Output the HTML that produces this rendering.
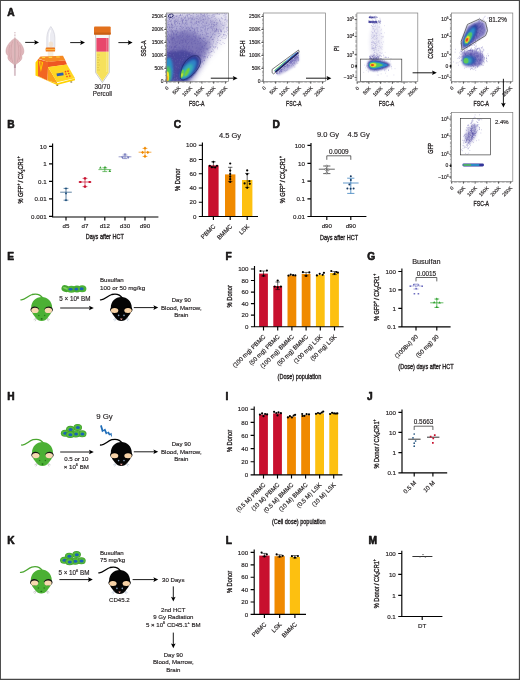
<!DOCTYPE html>
<html lang="en"><head><meta charset="utf-8"><title>Figure</title>
<style>html,body{margin:0;padding:0;background:#fff}svg{display:block;will-change:transform}text{font-family:"Liberation Sans",Arial,Helvetica,sans-serif;fill:#231f20}text{stroke:#231f20;stroke-width:.16px}.c,.c text{stroke-width:.34px}</style>
</head><body>
<svg width="520" height="680" viewBox="0 0 520 680">
<rect width="520" height="680" fill="#fff"/>
<defs>
<filter id="b1" x="-30%" y="-30%" width="160%" height="160%"><feGaussianBlur stdDeviation="0.9"/></filter>
<filter id="b2" x="-30%" y="-30%" width="160%" height="160%"><feGaussianBlur stdDeviation="1.8"/></filter>
<filter id="b3" x="-30%" y="-30%" width="160%" height="160%"><feGaussianBlur stdDeviation="3.2"/></filter>
<filter id="b0" x="-30%" y="-30%" width="160%" height="160%"><feGaussianBlur stdDeviation="0.45"/></filter>
<g id="mouseG"><path d="M-20.8 -8.6C-17 -8 -14 -12.5 -9.5 -13.9C-5 -15 -1 -13.5 1.2 -10.2" fill="none" stroke="#4aa62f" stroke-width="1.3" stroke-linecap="round"/><path d="M0 -11.5C5.8 -11.5 10.5 -7.4 10.5 -0.4C10.5 4.2 7.6 7.4 5.9 9.5C4.4 11.4 2.6 12.5 0 12.5C-2.6 12.5 -4.4 11.4 -5.9 9.5C-7.6 7.4 -10.5 4.2 -10.5 -0.4C-10.5 -7.4 -5.8 -11.5 0 -11.5Z" fill="#4bb034"/><path d="M-5.4 9.8l-2.6 1.5M-5.2 10.4l-1.5 2.4M5.4 9.8l2.6 1.5M5.2 10.4l1.5 2.4" stroke="#a6a6a6" stroke-width="0.55" fill="none"/><path d="M-11.2 1.2C-10.6 -2.6 -5 -3 -2.9 0.2C-2.6 2.4 -4 4.2 -6.6 4.4C-9.2 4.6 -11.4 3.4 -11.2 1.2Z" fill="#141414"/><path d="M11.2 1.2C10.6 -2.6 5 -3 2.9 0.2C2.6 2.4 4 4.2 6.6 4.4C9.2 4.6 11.4 3.4 11.2 1.2Z" fill="#141414"/><ellipse cx="-6.7" cy="2" rx="3.7" ry="2.55" fill="#f7d9b0"/><ellipse cx="6.7" cy="2" rx="3.7" ry="2.55" fill="#f7d9b0"/><circle cx="-2.9" cy="7" r="0.75" fill="#2c7a1e"/><circle cx="2.9" cy="7" r="0.75" fill="#2c7a1e"/><ellipse cx="0" cy="10.5" rx="1" ry="0.8" fill="#226b18"/></g>
<g id="mouseB"><path d="M-20.8 -8.6C-17 -8 -14 -12.5 -9.5 -13.9C-5 -15 -1 -13.5 1.2 -10.2" fill="none" stroke="#000" stroke-width="1.3" stroke-linecap="round"/><path d="M0 -11.5C5.8 -11.5 10.5 -7.4 10.5 -0.4C10.5 4.2 7.6 7.4 5.9 9.5C4.4 11.4 2.6 12.5 0 12.5C-2.6 12.5 -4.4 11.4 -5.9 9.5C-7.6 7.4 -10.5 4.2 -10.5 -0.4C-10.5 -7.4 -5.8 -11.5 0 -11.5Z" fill="#050505"/><path d="M-5.4 9.8l-2.6 1.5M-5.2 10.4l-1.5 2.4M5.4 9.8l2.6 1.5M5.2 10.4l1.5 2.4" stroke="#9fb0c4" stroke-width="0.55" fill="none"/><path d="M-11.2 1.2C-10.6 -2.6 -5 -3 -2.9 0.2C-2.6 2.4 -4 4.2 -6.6 4.4C-9.2 4.6 -11.4 3.4 -11.2 1.2Z" fill="#000"/><path d="M11.2 1.2C10.6 -2.6 5 -3 2.9 0.2C2.6 2.4 4 4.2 6.6 4.4C9.2 4.6 11.4 3.4 11.2 1.2Z" fill="#000"/><ellipse cx="-6.7" cy="2.1" rx="3.7" ry="2.5" fill="#f7d2a6"/><ellipse cx="6.7" cy="2.1" rx="3.7" ry="2.5" fill="#f7d2a6"/><circle cx="-2.7" cy="7" r="0.8" fill="#8ea6c2"/><circle cx="2.7" cy="7" r="0.8" fill="#8ea6c2"/><path d="M-1.3 10.2h2.6l-1.3 1.6z" fill="#f4a6a0"/></g>
<g id="cell"><ellipse rx="4.3" ry="3.5" fill="#3f9e2c"/><ellipse rx="3.7" ry="2.9" fill="#55b93a"/><ellipse cx="0.2" cy="0.1" rx="2" ry="1.5" fill="#1b62b5"/></g>
</defs>
<path d="M0 0H520V680H0ZM0.95 0.9V678.7H518.85V0.9Z" fill="#474747" fill-rule="evenodd"/>
<text x="7.2" y="15.6" font-size="10.2" font-weight="bold" fill="#000" style="font-weight:700;stroke:#000;stroke-width:.55px;stroke-linejoin:round">A</text>
<text x="7.2" y="127.7" font-size="10.2" font-weight="bold" fill="#000" style="font-weight:700;stroke:#000;stroke-width:.55px;stroke-linejoin:round">B</text>
<text x="173.8" y="127.7" font-size="10.2" font-weight="bold" fill="#000" style="font-weight:700;stroke:#000;stroke-width:.55px;stroke-linejoin:round">C</text>
<text x="272.4" y="127.7" font-size="10.2" font-weight="bold" fill="#000" style="font-weight:700;stroke:#000;stroke-width:.55px;stroke-linejoin:round">D</text>
<text x="7.2" y="259.5" font-size="10.2" font-weight="bold" fill="#000" style="font-weight:700;stroke:#000;stroke-width:.55px;stroke-linejoin:round">E</text>
<text x="225.4" y="259.5" font-size="10.2" font-weight="bold" fill="#000" style="font-weight:700;stroke:#000;stroke-width:.55px;stroke-linejoin:round">F</text>
<text x="367.2" y="259.5" font-size="10.2" font-weight="bold" fill="#000" style="font-weight:700;stroke:#000;stroke-width:.55px;stroke-linejoin:round">G</text>
<text x="7.2" y="400.1" font-size="10.2" font-weight="bold" fill="#000" style="font-weight:700;stroke:#000;stroke-width:.55px;stroke-linejoin:round">H</text>
<text x="225.6" y="399.9" font-size="10.2" font-weight="bold" fill="#000" style="font-weight:700;stroke:#000;stroke-width:.55px;stroke-linejoin:round">I</text>
<text x="367" y="400.3" font-size="10.2" font-weight="bold" fill="#000" style="font-weight:700;stroke:#000;stroke-width:.55px;stroke-linejoin:round">J</text>
<text x="7.2" y="544.1" font-size="10.2" font-weight="bold" fill="#000" style="font-weight:700;stroke:#000;stroke-width:.55px;stroke-linejoin:round">K</text>
<text x="225.8" y="544.1" font-size="10.2" font-weight="bold" fill="#000" style="font-weight:700;stroke:#000;stroke-width:.55px;stroke-linejoin:round">L</text>
<text x="368.5" y="544.1" font-size="10.2" font-weight="bold" fill="#000" style="font-weight:700;stroke:#000;stroke-width:.55px;stroke-linejoin:round">M</text>
<g>
<path d="M14.9 32.2V38.4" stroke="#cdb0b6" stroke-width="1.3" stroke-dasharray="0.9 0.6"/>
<path d="M14.9 64V75.8" stroke="#d9c3ca" stroke-width="1.9"/>
<path d="M14.9 64V68" stroke="#b99aa6" stroke-width="1.9"/>
<path d="M14.9 38.2C18.6 40.4 23.2 45.2 23.8 50.4C24.1 53 23 54.6 21.6 55.8C22.4 57.6 21.6 59.4 20.4 60.8C18.8 62.6 16.4 63.8 14.9 64.9C13.4 63.8 11 62.6 9.4 60.8C8.2 59.4 7.4 57.6 8.2 55.8C6.8 54.6 5.7 53 6 50.4C6.6 45.2 11.2 40.4 14.9 38.2Z" fill="#e0b7bb" stroke="#c9979c" stroke-width="0.5"/>
<path d="M14.9 38.8V64.4" stroke="#b9a2a2" stroke-width="0.8" fill="none"/>
<path d="M12.6 41.5C10.6 46.5 10.4 56 12.8 62.4M17.2 41.5C19.2 46.5 19.4 56 17 62.4M10 45C8.4 49.5 8.6 54.4 10.6 59.6M19.8 45C21.4 49.5 21.2 54.4 19.2 59.6" stroke="#c9959b" stroke-width="0.5" fill="none"/>
</g>
<path d="M25.2 42.4L35.4 42.4" stroke="#000" stroke-width="0.9"/>
<path d="M39 42.4L34.2 44.7L35.1 42.4L34.2 40.1Z" fill="#000"/>
<g>
<path d="M46.8 47.6V38C46.8 33 49 28.6 50.8 26.5C52.6 28.6 54.9 33 54.9 38V47.6Z" fill="#ececf2" stroke="#cdcdd6" stroke-width="0.6"/>
<path d="M49.3 46.5V37.5C49.3 34 50.1 31.5 50.6 30.3" fill="none" stroke="#fff" stroke-width="1.2"/>
<ellipse cx="50.9" cy="44.2" rx="2.3" ry="2.8" fill="#f3dfc6" opacity="0.75"/>
<rect x="47.8" y="51.2" width="5.6" height="5.4" fill="#f6ecdc"/>
<rect x="45.7" y="47.4" width="9.4" height="4.2" rx="0.7" fill="#f07a1c"/>
<rect x="45.7" y="49" width="9.4" height="1.1" fill="#fbb548"/>
<path d="M35.5 62.5L38 59.2V76L47.5 80.5L57 83.2L75 78.4V80.2L57 84.9L35.5 75.6Z" fill="#ffd200"/>
<path d="M38 59L48 61.8V67.5L47.5 80.5L38 76Z" fill="#f26522"/>
<path d="M48 61.8L65.2 60.2L67 64.5L48 67.2Z" fill="#ee5623"/>
<path d="M38.4 58.6L40.5 56.5L63 55.8L65.3 60.2L48 61.9Z" fill="#f58a24"/>
<path d="M42 56.9h3l.3 1.2h-3zM48.5 56.7h3.5l.3 1.2h-3.5zM56 56.4h3.5l.4 1.2h-3.5z" fill="#ffd640"/>
<path d="M38.7 61L43.2 62.2L40.9 72Z" fill="#ffd200"/><path d="M39.9 62L42.1 62.6L40.9 68.6Z" fill="#f47a20"/>
<path d="M48 67L57 82V83.3L47.5 80.5Z" fill="#f9a11a"/>
<path d="M48 67L67 64.5L75 78.2L57 82.2Z" fill="#ffd622"/>
<path d="M56.5 73.5L63.2 72.5L63.7 75.2L57 76.2Z" fill="#2f5fb0"/>
<circle cx="65.5" cy="71.7" r="0.85" fill="#ef4a23"/>
<circle cx="68" cy="71.2" r="0.85" fill="#ef4a23"/>
<circle cx="66" cy="74" r="0.85" fill="#ef4a23"/>
<circle cx="68.8" cy="73.5" r="0.85" fill="#ef4a23"/>
<circle cx="67" cy="76.5" r="0.85" fill="#ef4a23"/>
<circle cx="69.8" cy="76" r="0.85" fill="#ef4a23"/>
<path d="M56.4 84.8h1.8v0.9h-1.8zM70.4 81.5h1.8v0.9h-1.8z" fill="#7a5a10"/>
</g>
<path d="M70.2 42.6L81.4 42.6" stroke="#000" stroke-width="0.9"/>
<path d="M85 42.6L80.2 44.9L81.1 42.6L80.2 40.3Z" fill="#000"/>
<g>
<path d="M95.6 34V72.6L102.4 82.6L109.3 72.6V34Z" fill="#f7f7f7" stroke="#b5b5b5" stroke-width="0.7"/>
<path d="M96.4 51.6H108.5V72.4L102.4 81.2L96.4 72.4Z" fill="#f6e15c"/>
<rect x="96.4" y="38" width="12.1" height="13.6" fill="#e8476b"/>
<path d="M106.8 38V72" stroke="#fff" stroke-width="0.9" opacity="0.35"/>
<path d="M97 55h3M97 57.5h2M97 60h3M97 62.5h2M97 65h3M97 67.5h2M97 70h3" stroke="#c9a93a" stroke-width="0.4"/>
<rect x="94" y="26.4" width="16.7" height="8.2" rx="1" fill="#e2701c"/>
<rect x="94" y="32.6" width="16.7" height="2" fill="#c95f14"/>
</g>
<text x="102.4" y="89.2" font-size="6.3" text-anchor="middle">30/70</text>
<text x="102.4" y="96.4" font-size="6.3" text-anchor="middle">Percoll</text>
<path d="M118.4 42.6L129 42.6" stroke="#000" stroke-width="0.9"/>
<path d="M132.6 42.6L127.8 44.9L128.7 42.6L127.8 40.3Z" fill="#000"/>
<clipPath id="c1"><rect x="166.5" y="13" width="61.9" height="68.4"/></clipPath>
<g clip-path="url(#c1)">
<path d="M166 8L232 8L232 30L205 62L192 82L166 82Z" fill="#6a5fb0" opacity="0.16" filter="url(#b3)"/>
<path d="M166 18L205 13L224 24L206 55L190 82L166 82Z" fill="#5c52a8" opacity="0.36" filter="url(#b3)"/>
<path d="M166 34L190 30L210 44L202 62L188 82L166 82Z" fill="#4b429c" opacity="0.55" filter="url(#b3)"/>
<path d="M166 52L184 50L199 56L196 70L186 82L166 82Z" fill="#3b3a94" opacity="0.75" filter="url(#b2)"/>
<path d="M180.0 75.0h.6M167.8 52.3h.6M167.2 57.5h.6M168.2 78.0h.6M186.0 27.8h.6M170.2 71.0h.6M199.5 17.8h.6M196.0 60.0h.6M171.0 76.7h.6M179.2 28.7h.6M172.7 46.9h.6M200.4 61.6h.6M167.9 72.0h.6M203.4 57.9h.6M179.5 46.6h.6M187.8 66.3h.6M175.7 47.4h.6M192.5 23.8h.6M185.6 33.4h.6M171.4 53.6h.6M167.3 40.3h.6M209.7 47.5h.6M196.2 55.9h.6M215.5 18.1h.6M167.9 37.7h.6M201.0 14.0h.6M166.9 55.5h.6M172.1 76.7h.6M167.9 32.5h.6M170.4 69.5h.6M183.9 24.1h.6M168.6 56.4h.6M194.1 23.2h.6M213.9 24.8h.6M182.0 23.1h.6M172.5 70.5h.6M175.2 53.9h.6M196.9 68.6h.6M182.7 48.0h.6M224.6 38.6h.6M191.8 44.2h.6M220.2 31.6h.6M218.2 30.1h.6M169.4 42.9h.6M168.0 79.1h.6M174.0 74.4h.6M181.0 79.7h.6M166.5 75.0h.6M169.3 62.2h.6M166.9 23.9h.6M176.2 63.3h.6M182.4 76.5h.6M216.2 14.0h.6M168.8 77.5h.6M181.1 68.5h.6M166.9 17.5h.6M192.7 15.2h.6M217.3 38.2h.6M172.0 32.2h.6M193.0 31.6h.6M180.4 71.0h.6M213.3 14.7h.6M213.8 34.7h.6M174.9 51.5h.6M181.9 80.6h.6M167.0 67.6h.6M176.5 38.4h.6M174.6 70.8h.6M173.4 72.1h.6M199.3 21.8h.6M201.4 30.0h.6M168.7 40.9h.6M221.1 31.4h.6M172.6 30.8h.6M180.5 29.9h.6M184.6 17.9h.6M220.7 29.4h.6M171.1 27.8h.6M170.5 81.1h.6M192.6 19.0h.6M176.1 66.7h.6M175.6 46.5h.6M176.5 58.5h.6M170.5 21.0h.6M181.7 55.8h.6M196.4 21.4h.6M190.9 50.5h.6M166.5 30.0h.6M172.3 54.7h.6M206.7 48.7h.6M180.2 51.5h.6M194.5 31.2h.6M176.0 67.7h.6M210.2 52.3h.6M195.0 33.1h.6M198.5 52.4h.6M191.6 38.4h.6M189.4 18.3h.6M204.7 23.7h.6M194.8 18.2h.6M168.3 69.9h.6M168.3 40.2h.6M211.1 22.0h.6M171.5 36.6h.6M174.5 17.4h.6M184.4 53.7h.6M227.7 27.3h.6M171.8 57.6h.6M191.9 63.8h.6M194.4 57.0h.6M199.3 51.9h.6M168.0 14.7h.6M211.5 15.8h.6M167.3 31.6h.6M177.1 76.1h.6M185.9 20.8h.6M171.3 20.2h.6M195.6 37.8h.6M203.9 58.0h.6M168.3 18.6h.6M200.0 29.8h.6M168.1 24.9h.6M187.8 63.8h.6M194.4 19.6h.6M192.6 70.1h.6M169.6 74.4h.6M167.6 72.2h.6M179.4 66.0h.6M181.4 80.9h.6M176.1 81.0h.6M207.3 49.1h.6M173.1 54.6h.6M190.5 27.2h.6M184.1 52.3h.6M203.9 14.9h.6M205.3 42.8h.6M184.8 63.3h.6M167.7 76.1h.6M168.2 34.7h.6M176.3 74.3h.6M168.7 26.6h.6M217.9 40.1h.6M178.3 55.7h.6M171.6 56.6h.6M176.7 16.6h.6M175.8 16.3h.6M179.2 62.7h.6M166.5 61.0h.6M189.2 52.6h.6M166.5 68.5h.6M168.9 59.8h.6M167.3 80.8h.6M178.9 70.4h.6M196.6 50.7h.6M208.6 41.1h.6M183.9 64.6h.6M206.6 42.2h.6M219.6 43.4h.6M207.3 29.0h.6M191.1 27.1h.6M212.7 27.8h.6M203.5 38.4h.6M175.0 80.5h.6M170.6 62.4h.6M169.5 27.1h.6M194.7 43.4h.6M212.2 34.1h.6M207.8 15.5h.6M189.5 39.1h.6M209.8 44.2h.6M171.2 69.1h.6M202.8 38.5h.6M188.6 76.7h.6M166.8 55.7h.6M213.9 16.1h.6M187.6 68.2h.6M174.1 46.9h.6M170.9 51.1h.6M213.9 52.2h.6M175.1 22.0h.6M166.5 53.4h.6M187.6 66.2h.6M179.6 26.7h.6M166.5 33.9h.6M222.4 36.8h.6M182.8 60.2h.6M182.2 57.9h.6M177.4 79.9h.6M169.3 27.1h.6M177.9 18.8h.6M176.0 68.4h.6M219.0 29.0h.6M199.8 20.7h.6M207.2 56.3h.6M178.0 79.8h.6M189.0 63.5h.6M172.0 74.4h.6M173.9 21.3h.6M190.6 71.2h.6M220.8 13.7h.6M173.2 78.0h.6M181.1 78.0h.6M175.5 68.9h.6M195.5 22.8h.6M183.1 63.9h.6M168.0 67.7h.6M191.0 43.3h.6M177.1 69.5h.6M184.5 56.6h.6M224.7 26.0h.6M214.4 25.5h.6M192.3 39.2h.6M223.7 36.2h.6M188.1 49.1h.6M167.3 31.4h.6M175.2 20.1h.6M200.8 66.1h.6M200.2 38.0h.6M169.7 78.9h.6M192.4 46.8h.6M178.8 55.6h.6M175.3 69.6h.6M179.1 80.8h.6M190.7 39.8h.6M202.4 19.7h.6M174.9 80.4h.6M180.8 58.4h.6M191.1 72.0h.6M174.6 33.1h.6M178.4 17.5h.6M190.5 73.0h.6M174.7 58.6h.6M202.3 17.7h.6M174.2 15.6h.6M170.9 79.7h.6M167.9 60.2h.6M220.1 23.1h.6M207.2 13.6h.6M172.9 18.8h.6M202.2 61.2h.6M172.1 81.4h.6M177.6 63.0h.6M167.6 54.7h.6M182.9 20.2h.6M173.2 62.2h.6M167.2 79.3h.6M180.9 68.0h.6M176.7 36.6h.6M179.6 67.8h.6M166.5 33.5h.6M175.2 54.6h.6M224.9 17.3h.6M183.7 69.3h.6M186.3 53.3h.6M214.1 32.1h.6M198.1 64.5h.6M173.4 33.7h.6M175.9 79.2h.6M167.1 49.0h.6M180.1 15.1h.6M219.0 14.4h.6M169.1 52.9h.6M205.5 56.5h.6M175.2 58.6h.6M199.0 39.9h.6M175.9 69.7h.6M171.4 23.1h.6M191.3 70.5h.6M213.0 41.5h.6M189.2 28.4h.6M215.5 20.6h.6M170.0 72.9h.6M176.6 31.7h.6M197.3 44.0h.6M170.9 72.1h.6M176.3 45.5h.6M166.6 64.6h.6M212.0 49.3h.6M168.0 77.5h.6M184.2 49.2h.6M185.1 67.3h.6M179.1 17.4h.6M179.4 48.0h.6M181.9 58.7h.6M217.4 13.7h.6M182.3 72.5h.6M186.0 28.3h.6M184.9 23.2h.6M188.3 74.4h.6M166.7 49.1h.6M200.5 21.0h.6M182.7 52.5h.6M171.1 67.3h.6M192.2 19.7h.6M169.6 53.5h.6M212.7 16.2h.6M223.8 15.5h.6M189.7 79.7h.6M184.8 26.2h.6M174.4 59.8h.6M192.0 60.9h.6M206.7 22.0h.6M167.3 48.3h.6M197.6 49.2h.6M186.1 41.0h.6M187.4 57.1h.6M166.9 44.1h.6M190.1 70.3h.6M188.1 73.5h.6M189.1 77.2h.6M169.0 56.9h.6M191.1 61.3h.6M216.8 13.7h.6M207.2 28.7h.6M190.3 17.1h.6M168.1 63.0h.6M191.0 20.1h.6M174.0 68.6h.6M191.2 65.1h.6M171.8 18.8h.6M203.3 22.2h.6M172.1 31.2h.6M169.8 50.6h.6M200.2 62.5h.6M196.2 23.2h.6M169.4 14.0h.6M199.7 60.2h.6M182.1 32.8h.6M187.1 73.6h.6M200.4 14.8h.6M179.4 81.4h.6M167.1 75.1h.6M198.7 57.6h.6M191.7 22.2h.6M166.5 62.8h.6M169.5 62.6h.6M174.7 46.7h.6M170.6 18.7h.6M175.7 75.1h.6M169.1 42.6h.6M218.0 31.4h.6M184.6 68.5h.6M166.6 42.1h.6M195.0 63.1h.6M223.3 35.2h.6M176.0 21.5h.6M167.4 50.5h.6M184.9 70.1h.6M167.8 31.6h.6M166.7 49.1h.6M191.3 42.4h.6M167.5 22.7h.6M211.1 36.7h.6M166.6 26.4h.6M208.2 55.3h.6M174.8 77.3h.6M175.1 80.2h.6M180.7 34.0h.6M204.4 26.3h.6M211.5 51.1h.6M176.8 42.3h.6M176.6 70.2h.6M208.1 18.1h.6M175.5 21.2h.6M199.8 38.4h.6M202.3 15.2h.6M204.6 25.3h.6M186.8 35.9h.6M195.6 65.8h.6M168.5 20.9h.6M171.1 80.7h.6M169.5 19.4h.6M181.2 75.5h.6M167.0 80.1h.6M204.3 42.9h.6M204.6 35.0h.6M182.3 28.5h.6M213.9 22.5h.6M168.1 24.4h.6M221.4 18.1h.6M169.7 80.4h.6M216.1 29.0h.6M200.0 27.9h.6M169.3 77.7h.6M179.8 58.2h.6M166.8 69.0h.6M177.8 36.6h.6M182.6 65.0h.6M167.1 58.9h.6M186.7 32.1h.6M181.3 37.5h.6M166.5 72.2h.6M209.5 15.3h.6M166.5 53.5h.6M190.3 30.2h.6M181.4 27.4h.6M176.6 18.1h.6M177.8 71.5h.6M204.8 52.9h.6M169.6 42.7h.6M168.6 30.9h.6M204.6 31.0h.6M184.6 60.1h.6M183.3 23.1h.6M175.2 55.6h.6M192.9 33.6h.6M181.4 64.6h.6M171.5 26.5h.6M202.0 34.6h.6M172.1 57.1h.6M210.3 47.0h.6M173.2 66.2h.6M205.0 26.4h.6M175.9 64.6h.6M192.3 74.5h.6M180.3 72.9h.6M226.4 35.6h.6M169.3 60.8h.6M227.2 30.4h.6M207.3 57.4h.6M169.5 71.9h.6M183.8 80.4h.6M184.4 30.7h.6M204.3 52.8h.6M199.9 55.4h.6M184.8 34.7h.6M195.8 34.0h.6M206.5 23.4h.6M210.4 37.9h.6M200.6 56.1h.6M179.4 43.4h.6M169.2 58.4h.6M211.0 36.8h.6M185.9 56.0h.6M199.1 59.1h.6M203.0 19.3h.6M190.2 15.6h.6M171.8 31.4h.6M169.3 47.4h.6M193.6 36.5h.6M185.1 17.8h.6M174.0 39.1h.6M184.0 32.9h.6M170.1 14.7h.6M181.8 79.5h.6M177.3 59.8h.6M166.7 58.5h.6M185.8 38.0h.6M181.7 68.5h.6M174.7 34.6h.6M184.0 71.6h.6M170.4 31.8h.6M213.1 42.9h.6M188.8 48.3h.6M181.7 42.6h.6M213.8 28.6h.6M188.8 66.7h.6M186.1 73.1h.6M166.5 36.2h.6M177.7 69.7h.6M178.8 54.3h.6M186.2 42.7h.6M201.8 62.3h.6M222.6 25.5h.6M220.7 31.2h.6M170.9 27.4h.6M169.3 75.4h.6M175.2 31.8h.6M181.3 74.9h.6M220.6 30.6h.6M198.2 31.5h.6M202.5 22.3h.6M173.4 38.4h.6M192.9 34.6h.6M186.9 23.2h.6M194.5 68.5h.6M188.7 75.3h.6M193.5 24.8h.6M166.6 26.7h.6M188.7 48.3h.6M183.0 58.5h.6M200.2 42.8h.6M203.5 19.2h.6M180.4 15.0h.6M191.5 53.9h.6M206.2 43.6h.6M180.9 24.9h.6M182.5 54.6h.6M192.5 32.3h.6M185.9 48.9h.6M191.2 15.5h.6M201.5 30.6h.6M178.7 46.5h.6M200.1 31.2h.6M167.3 36.1h.6M166.6 72.9h.6M201.7 30.8h.6M198.8 43.5h.6M204.5 45.8h.6M202.4 55.8h.6M210.4 20.6h.6M201.6 61.9h.6M178.8 58.3h.6M179.7 57.7h.6M200.6 19.0h.6M167.3 76.7h.6M213.2 47.3h.6M197.0 18.7h.6M171.4 81.0h.6M166.5 39.1h.6M170.1 16.2h.6M168.8 24.3h.6M170.4 81.0h.6M167.6 32.0h.6M205.8 25.5h.6M188.3 19.1h.6M176.3 16.4h.6M179.3 35.6h.6M172.0 25.0h.6M186.9 39.7h.6M171.1 30.2h.6M182.3 42.1h.6M199.7 58.5h.6M183.6 31.1h.6M223.9 31.2h.6M167.9 15.6h.6M205.0 27.7h.6M180.5 45.1h.6M226.6 27.4h.6M186.3 22.8h.6M183.1 39.0h.6M197.7 22.1h.6M185.9 46.5h.6M213.6 22.8h.6M167.4 27.3h.6M213.3 24.5h.6M216.4 29.4h.6M203.7 20.7h.6M194.4 30.2h.6M173.6 33.9h.6M188.6 71.9h.6M176.3 33.8h.6M211.7 55.7h.6M196.2 22.0h.6M189.3 46.3h.6M173.0 72.7h.6M172.7 37.8h.6M182.3 48.1h.6M184.6 51.6h.6M171.2 80.0h.6M197.4 63.4h.6M167.1 14.2h.6M195.3 68.7h.6M224.1 32.6h.6M213.8 16.5h.6M173.6 73.4h.6M168.7 79.8h.6M194.7 24.2h.6M188.1 17.9h.6M197.5 59.9h.6M170.0 16.8h.6M176.4 48.1h.6M200.5 17.1h.6M187.5 74.5h.6M225.7 14.1h.6M176.3 63.0h.6M220.5 21.4h.6M200.9 14.6h.6M167.8 75.3h.6M208.9 18.5h.6M197.0 33.3h.6M169.5 64.8h.6M176.4 76.4h.6M189.6 74.1h.6M174.6 19.0h.6M217.6 22.7h.6M170.9 56.5h.6M169.2 19.4h.6M215.7 43.4h.6M205.8 48.9h.6M171.1 24.2h.6M176.9 59.0h.6M171.5 68.1h.6M179.7 21.5h.6M169.8 15.2h.6M167.8 22.2h.6M189.4 67.2h.6M182.4 14.2h.6M228.3 19.7h.6M169.2 67.0h.6M172.9 57.4h.6M172.6 32.3h.6M168.5 78.2h.6M198.2 53.1h.6M198.5 37.3h.6M213.3 46.8h.6M215.6 24.7h.6M172.9 27.4h.6M182.5 74.3h.6M182.8 45.9h.6M166.5 51.4h.6M187.3 51.7h.6M213.7 24.6h.6M179.9 37.0h.6M183.4 33.8h.6M167.9 24.0h.6M176.1 28.6h.6M167.0 77.7h.6M166.8 45.5h.6M196.0 51.2h.6M217.8 36.5h.6M167.4 76.4h.6M190.4 52.8h.6M184.8 75.7h.6M197.0 25.0h.6M171.2 47.5h.6M183.8 58.4h.6M184.2 18.4h.6M186.7 15.0h.6M212.7 20.7h.6M213.5 26.1h.6M225.0 18.9h.6M176.0 58.3h.6M199.9 62.1h.6M186.5 52.5h.6M166.8 75.6h.6M226.0 31.8h.6M193.6 19.8h.6M179.0 41.9h.6M170.1 45.9h.6M193.1 75.1h.6M170.2 76.0h.6M178.4 59.3h.6M178.1 69.8h.6M168.8 49.5h.6M215.5 44.7h.6M173.6 37.1h.6M188.3 49.3h.6M198.5 55.0h.6M174.6 51.9h.6M183.5 46.6h.6M166.7 62.9h.6M194.6 53.4h.6M178.5 32.2h.6M171.7 79.1h.6M168.0 60.6h.6M187.0 35.1h.6M169.6 70.9h.6M225.1 34.8h.6M181.7 39.8h.6M198.8 25.9h.6M211.2 37.2h.6M209.7 46.5h.6M195.7 58.6h.6M211.1 24.0h.6M187.7 55.8h.6M183.6 64.9h.6M211.4 25.9h.6M190.8 56.8h.6M171.1 47.3h.6M186.1 20.9h.6M166.6 79.9h.6M195.2 53.0h.6M193.4 13.5h.6M192.0 51.6h.6M182.0 45.9h.6M181.6 17.8h.6M203.1 51.0h.6M169.2 61.5h.6M184.6 48.4h.6M195.8 23.5h.6M187.0 43.6h.6M192.8 28.7h.6M226.7 27.9h.6M191.7 77.1h.6M214.0 14.2h.6M191.6 52.5h.6M173.0 73.3h.6M199.7 45.3h.6M185.2 30.9h.6M179.1 38.6h.6M166.5 66.0h.6M215.7 46.5h.6M190.7 49.0h.6M176.9 42.0h.6M192.9 13.6h.6M170.1 74.7h.6M169.3 73.9h.6M192.3 28.1h.6M168.0 81.1h.6M169.2 21.5h.6M196.4 63.2h.6M187.6 60.7h.6M196.4 16.8h.6M186.9 44.0h.6M176.0 80.0h.6M222.8 25.5h.6M197.8 16.8h.6M175.7 60.5h.6M179.2 23.8h.6M189.8 30.5h.6M182.0 73.1h.6M184.7 79.1h.6M170.2 27.9h.6M181.6 69.7h.6M173.1 67.3h.6M175.4 80.4h.6M171.5 37.4h.6M169.0 68.2h.6M181.7 36.1h.6M183.1 16.9h.6M173.9 17.5h.6M191.1 70.7h.6M177.1 32.2h.6M183.6 41.1h.6M195.4 65.6h.6M183.9 78.2h.6M172.5 25.8h.6M179.9 40.7h.6M169.6 48.3h.6M182.2 52.8h.6M178.5 79.1h.6M179.3 70.8h.6M170.3 36.6h.6M177.7 59.5h.6M221.0 32.0h.6M170.5 67.8h.6M167.0 39.4h.6M185.3 41.0h.6M169.9 20.7h.6M207.3 36.9h.6M171.8 72.4h.6M178.9 61.1h.6M167.3 65.6h.6M215.5 47.7h.6M186.6 39.1h.6M181.5 81.4h.6M215.0 31.8h.6M178.0 80.1h.6M216.6 44.9h.6M169.7 30.6h.6M174.0 20.6h.6M204.4 60.2h.6M177.7 78.1h.6M222.7 38.5h.6M199.6 56.1h.6M167.7 38.0h.6M186.2 52.0h.6M205.0 29.5h.6M176.6 49.5h.6M167.9 62.6h.6M185.2 72.2h.6M179.3 75.8h.6M205.3 40.2h.6M175.4 69.9h.6M191.8 56.7h.6M178.7 23.1h.6M170.9 48.2h.6M180.6 28.7h.6M194.0 33.1h.6M172.1 40.4h.6M197.5 55.6h.6M169.8 67.0h.6M182.1 71.9h.6M167.9 67.5h.6M173.4 37.7h.6M180.1 55.0h.6M182.3 74.1h.6M168.3 81.2h.6M227.8 33.9h.6M169.6 53.6h.6M186.6 72.9h.6M199.6 18.9h.6M167.0 32.0h.6M172.9 42.6h.6M215.9 19.6h.6M214.7 34.5h.6M180.2 73.2h.6M182.7 27.4h.6M175.5 80.1h.6M195.3 43.4h.6M213.9 37.4h.6M190.5 52.8h.6M171.6 66.3h.6M187.2 16.0h.6M168.9 80.2h.6M186.9 72.8h.6M177.8 40.8h.6M191.8 58.3h.6M202.3 27.8h.6M195.1 63.2h.6M173.3 78.3h.6M180.0 55.6h.6M226.1 21.1h.6M178.5 47.6h.6M167.0 72.9h.6M203.2 56.5h.6M168.7 40.9h.6M182.8 46.9h.6M185.5 50.7h.6M195.2 60.0h.6M169.7 24.9h.6M176.2 77.8h.6M192.9 69.3h.6M174.9 47.5h.6M169.8 51.9h.6M185.0 78.8h.6M186.9 24.8h.6M194.2 36.7h.6M169.3 27.5h.6M184.0 73.9h.6M175.4 61.6h.6M166.7 45.9h.6M174.2 66.3h.6M205.4 58.0h.6M221.7 24.2h.6M181.0 32.9h.6M203.4 27.9h.6M170.2 61.6h.6M207.6 17.8h.6M194.1 29.7h.6M173.2 56.6h.6M215.4 46.9h.6M169.7 29.9h.6M172.9 48.9h.6M178.2 38.9h.6M183.3 75.4h.6M204.0 29.3h.6M181.1 75.0h.6M190.9 24.0h.6M203.3 60.3h.6M189.2 74.6h.6M168.4 64.4h.6M174.3 22.3h.6M188.7 47.2h.6M183.8 62.9h.6M166.6 47.0h.6M180.6 80.9h.6M188.2 14.6h.6M177.3 52.8h.6M176.7 47.8h.6M192.7 17.0h.6M194.9 32.3h.6M218.1 32.0h.6M182.3 67.5h.6M212.0 24.0h.6M207.8 52.2h.6M200.1 63.1h.6M167.9 63.9h.6M180.0 14.4h.6M189.6 62.0h.6M175.7 70.3h.6M181.5 75.8h.6M166.6 24.2h.6M187.8 56.6h.6M172.1 79.1h.6M178.8 65.8h.6M206.8 49.1h.6M168.6 73.5h.6M196.3 14.5h.6M181.9 32.0h.6M186.2 24.4h.6M168.1 53.9h.6M171.9 68.3h.6M184.5 72.3h.6M197.8 24.8h.6M207.3 16.5h.6M181.0 75.7h.6M173.0 50.1h.6M201.1 59.4h.6M203.3 63.9h.6M167.5 43.5h.6M180.6 53.2h.6M197.5 69.0h.6M188.4 81.1h.6M198.6 36.0h.6M171.6 75.4h.6M194.5 41.2h.6M197.7 64.3h.6M205.7 32.9h.6M187.8 67.7h.6M192.4 18.4h.6M189.2 41.3h.6M167.0 75.9h.6M167.9 52.7h.6M194.5 73.3h.6M171.3 73.6h.6M207.6 20.0h.6M171.8 80.6h.6M200.2 63.5h.6M169.6 35.2h.6M168.1 42.1h.6M184.6 24.8h.6M167.9 48.1h.6M185.1 20.2h.6M223.9 43.5h.6M174.7 69.3h.6M176.7 57.5h.6M175.1 72.1h.6M209.2 42.3h.6M174.4 47.8h.6M171.6 24.8h.6M208.7 28.1h.6M189.9 22.5h.6M171.8 39.2h.6M197.4 56.1h.6M174.0 23.1h.6M182.1 31.6h.6M217.4 13.8h.6M169.7 15.6h.6M166.6 20.8h.6M171.3 35.0h.6M169.2 74.0h.6M180.9 20.3h.6M206.0 23.3h.6M175.3 30.6h.6M191.1 70.5h.6M166.8 14.2h.6M179.6 23.6h.6M170.1 53.7h.6M170.7 57.8h.6M172.6 39.0h.6M171.2 34.9h.6M190.9 77.0h.6M181.7 53.1h.6M218.9 35.4h.6M177.2 73.6h.6M176.8 79.0h.6M167.4 52.2h.6M185.0 48.7h.6M182.3 81.2h.6M203.9 41.5h.6M204.1 14.9h.6M218.2 36.5h.6M185.7 15.7h.6M183.7 60.8h.6M185.1 75.4h.6M198.2 19.6h.6M183.1 69.9h.6M173.5 76.8h.6M215.7 31.2h.6M200.9 49.3h.6M179.6 15.8h.6M166.5 34.2h.6M175.2 43.3h.6M199.6 49.7h.6M176.8 21.1h.6M189.1 36.2h.6M192.3 54.5h.6M192.4 50.8h.6M172.3 28.2h.6M188.3 42.4h.6M214.5 22.3h.6M183.4 27.4h.6M171.5 69.3h.6M169.4 62.7h.6M212.6 51.3h.6M184.2 13.7h.6M204.4 56.4h.6M189.4 30.1h.6M192.2 70.1h.6M183.4 81.0h.6M173.6 47.7h.6M167.8 73.5h.6M180.0 69.9h.6M173.6 58.2h.6M211.8 44.2h.6M182.8 80.0h.6M187.1 62.0h.6M185.0 41.9h.6M183.6 47.1h.6M182.8 40.5h.6M180.3 78.9h.6M192.5 53.1h.6M166.9 46.0h.6M188.4 55.5h.6M187.0 53.4h.6M191.6 28.0h.6M202.6 34.7h.6M203.3 48.9h.6M210.0 32.4h.6M168.5 28.5h.6M169.3 78.1h.6M208.8 48.1h.6M167.7 39.3h.6M205.6 54.0h.6M185.6 46.7h.6M228.3 28.6h.6M166.6 14.4h.6M177.3 68.6h.6M179.4 69.1h.6M217.0 48.8h.6M191.5 58.4h.6M217.6 29.8h.6M193.3 61.5h.6M188.5 53.6h.6M193.0 59.2h.6M195.2 64.8h.6M178.2 37.0h.6M212.6 46.1h.6M187.9 18.9h.6M167.8 57.5h.6M178.4 71.7h.6M211.2 17.6h.6M185.4 41.0h.6M176.4 21.3h.6M167.4 27.0h.6M178.4 70.4h.6M196.4 65.1h.6M212.3 15.1h.6M183.3 42.4h.6M174.7 49.5h.6M169.0 55.3h.6M206.9 57.7h.6M222.2 13.7h.6M208.6 53.1h.6M197.5 49.9h.6M168.8 75.6h.6M177.1 22.4h.6M197.5 16.2h.6M181.2 18.1h.6M175.9 34.5h.6M172.6 30.9h.6M178.6 79.0h.6M194.3 30.9h.6M167.1 51.9h.6M169.2 42.0h.6M170.5 47.1h.6M181.7 61.5h.6M172.2 18.3h.6M180.5 26.5h.6M190.6 50.2h.6M171.9 50.3h.6M191.3 62.0h.6M173.5 59.5h.6M173.7 76.2h.6M175.5 24.1h.6M190.9 22.6h.6M190.1 30.7h.6M195.6 38.7h.6M171.4 68.5h.6M167.1 60.2h.6M192.0 66.8h.6M197.3 31.2h.6M198.9 38.5h.6M184.9 78.1h.6M175.8 35.2h.6M181.2 75.6h.6M173.5 71.2h.6M180.4 15.4h.6M228.3 30.6h.6M210.8 21.1h.6M208.7 42.7h.6M215.9 31.0h.6M169.0 36.5h.6M181.5 74.4h.6M214.6 18.7h.6M220.7 34.3h.6M196.9 57.4h.6M214.3 31.2h.6M176.1 26.8h.6M175.1 72.4h.6M188.1 70.2h.6M190.3 21.1h.6M184.0 31.2h.6M211.9 39.2h.6M223.7 27.9h.6M201.3 27.0h.6M180.9 45.9h.6M215.2 30.5h.6M166.7 77.1h.6M197.9 55.8h.6M181.7 26.3h.6M199.0 66.8h.6M168.8 68.1h.6M204.9 56.9h.6M170.1 39.2h.6M167.3 28.1h.6M172.8 68.1h.6M174.7 22.6h.6M198.3 22.3h.6M172.4 18.0h.6M187.9 29.2h.6M169.3 49.0h.6M183.1 19.4h.6M219.8 40.5h.6M187.2 17.0h.6M182.2 40.9h.6M199.9 61.4h.6M182.3 15.4h.6M167.8 27.1h.6M203.6 48.6h.6M219.6 35.6h.6M224.6 22.5h.6M171.1 46.4h.6M200.5 67.5h.6M212.8 39.7h.6M205.5 38.6h.6M177.5 74.4h.6M195.9 27.9h.6M170.9 51.7h.6M178.6 60.9h.6M225.7 16.6h.6M173.0 65.7h.6M169.6 68.8h.6M184.1 60.7h.6M173.7 21.1h.6M187.6 27.0h.6M179.5 74.9h.6M194.8 40.1h.6M182.3 20.3h.6M192.8 67.0h.6M214.4 48.0h.6M181.7 18.5h.6M176.8 69.8h.6M168.2 49.3h.6M208.8 39.6h.6M169.7 65.9h.6M200.8 16.2h.6M200.0 38.5h.6M223.6 34.5h.6M181.1 60.3h.6M192.9 51.3h.6M202.6 21.7h.6M168.1 58.9h.6M191.0 25.7h.6M202.4 47.1h.6M177.3 26.3h.6M211.5 26.8h.6M171.3 40.1h.6M208.9 52.8h.6M208.0 28.3h.6M201.1 23.6h.6M205.1 44.6h.6M177.4 79.1h.6M197.8 28.0h.6M174.7 77.9h.6M203.0 15.5h.6M166.5 43.3h.6M170.8 67.9h.6M167.9 56.6h.6M194.5 29.4h.6M169.7 70.9h.6M199.7 63.7h.6M180.4 47.8h.6M174.4 30.5h.6M174.0 26.8h.6M213.1 50.1h.6M167.0 52.5h.6M186.0 79.3h.6M199.7 35.9h.6M196.6 59.8h.6M174.8 24.5h.6M228.1 29.6h.6M189.4 75.9h.6M187.8 39.2h.6M181.0 72.9h.6M184.7 67.4h.6M173.3 35.0h.6M191.9 57.1h.6M173.5 37.6h.6M173.4 68.4h.6M194.9 37.8h.6M224.2 20.1h.6M206.5 36.3h.6M166.7 24.8h.6M206.4 43.2h.6M176.8 62.7h.6M171.9 43.1h.6M181.8 21.9h.6M169.4 77.3h.6M171.5 31.8h.6M189.0 14.2h.6M189.3 28.2h.6M170.4 77.1h.6M195.1 52.2h.6M166.8 21.1h.6M205.6 18.0h.6M213.3 26.6h.6M170.6 81.1h.6M174.2 46.6h.6M183.2 81.2h.6M214.7 31.1h.6M168.2 64.8h.6M199.3 23.0h.6M173.8 69.8h.6M169.4 46.1h.6M170.3 72.3h.6M188.0 46.6h.6M186.9 79.1h.6M188.9 59.8h.6M175.5 41.7h.6M204.2 54.8h.6M170.9 21.0h.6M175.0 60.3h.6M211.5 28.0h.6M200.0 34.6h.6M226.5 29.7h.6M167.3 79.8h.6M175.6 19.2h.6M174.5 40.0h.6M222.7 42.6h.6M171.4 80.9h.6M226.3 37.1h.6M171.8 51.9h.6M169.5 31.0h.6M219.4 20.4h.6M166.5 25.8h.6M194.6 28.2h.6M197.2 30.0h.6M168.5 79.6h.6M193.9 66.9h.6M214.7 29.0h.6M186.3 77.1h.6M207.1 25.9h.6M198.1 15.2h.6M168.4 76.9h.6M204.3 45.6h.6M192.2 55.9h.6M201.1 20.4h.6M207.2 30.2h.6M203.4 25.9h.6M172.6 18.2h.6M187.1 37.4h.6M176.2 66.3h.6M181.4 64.8h.6M169.1 56.8h.6M215.2 13.9h.6M166.8 70.5h.6M219.2 20.1h.6M180.3 32.3h.6M210.4 22.6h.6M169.5 27.9h.6M179.5 43.5h.6M182.5 50.1h.6M192.9 41.7h.6M185.0 20.6h.6M204.1 16.2h.6M168.9 71.6h.6M178.0 21.2h.6M166.7 68.8h.6M206.0 14.3h.6M203.8 38.6h.6M208.2 33.7h.6M167.0 38.5h.6M174.0 68.8h.6M197.0 41.2h.6M178.9 79.2h.6M168.1 81.1h.6M182.2 75.5h.6M169.8 53.3h.6M177.3 32.4h.6M172.5 77.6h.6M178.9 59.2h.6M204.0 56.7h.6M216.7 29.7h.6M201.8 46.5h.6M171.0 77.7h.6M201.3 47.7h.6M166.7 25.7h.6M170.4 16.5h.6M182.3 36.1h.6M170.8 30.9h.6M176.1 62.0h.6M176.0 30.3h.6M177.9 61.1h.6M183.5 62.1h.6M200.5 54.8h.6M175.3 80.6h.6M186.9 76.8h.6M188.2 37.0h.6M169.0 76.7h.6M189.5 73.8h.6M170.0 79.0h.6M182.2 55.0h.6M168.3 71.0h.6M208.1 48.2h.6M168.7 68.5h.6M187.8 65.2h.6M173.8 40.7h.6M182.2 76.6h.6M201.4 51.8h.6M166.9 54.9h.6M207.8 50.1h.6M198.0 41.6h.6M171.1 29.7h.6M224.0 34.7h.6M174.9 45.6h.6M186.9 75.6h.6M173.2 34.0h.6M196.4 18.5h.6M184.6 39.5h.6M166.7 17.8h.6M175.2 54.4h.6M191.6 17.8h.6M174.8 16.7h.6M179.9 59.3h.6M181.1 40.3h.6M166.9 61.5h.6M171.8 27.7h.6M166.5 44.9h.6M176.4 56.0h.6M195.0 36.9h.6M170.8 70.0h.6M170.1 16.8h.6M171.3 75.7h.6M192.3 46.9h.6M175.2 74.1h.6M196.6 56.2h.6M185.0 22.8h.6M202.0 25.1h.6M167.6 20.6h.6M169.4 81.0h.6M178.1 67.0h.6M225.7 24.2h.6M216.2 29.4h.6M201.4 51.9h.6M201.7 46.5h.6M212.5 21.9h.6M168.4 22.0h.6M192.4 39.6h.6M168.3 34.6h.6M199.3 54.8h.6M166.6 54.6h.6M203.2 37.2h.6M175.2 57.7h.6M185.1 16.6h.6M202.1 32.6h.6M170.3 71.0h.6M174.3 68.4h.6M167.2 75.8h.6M184.9 58.4h.6M168.5 46.8h.6M186.8 73.7h.6M189.6 81.0h.6M209.8 27.1h.6M200.6 42.9h.6M173.4 32.7h.6M178.8 69.0h.6M216.3 23.8h.6M166.7 50.3h.6M168.2 81.3h.6M172.3 38.2h.6M166.5 70.6h.6M176.8 37.0h.6M180.7 51.2h.6M179.8 58.6h.6M189.4 68.9h.6M171.8 78.0h.6M199.3 38.1h.6M176.7 30.6h.6M167.6 74.8h.6M204.3 60.8h.6M212.2 29.8h.6M169.1 46.5h.6M173.1 37.3h.6M212.7 30.7h.6M202.1 48.1h.6M170.8 72.7h.6M176.5 58.2h.6M193.0 36.0h.6M167.1 36.0h.6M174.6 66.9h.6M200.4 38.5h.6M173.8 65.6h.6M171.6 70.8h.6M210.2 27.8h.6M179.6 36.2h.6M167.8 44.8h.6M168.9 79.8h.6M191.7 75.0h.6M188.3 72.4h.6M170.0 52.3h.6M192.2 62.3h.6M168.2 60.6h.6M189.7 69.2h.6M179.7 54.5h.6M205.7 32.3h.6M182.8 56.6h.6M222.5 19.0h.6M188.0 42.7h.6M177.5 80.3h.6M226.9 21.0h.6M199.0 66.3h.6M168.2 33.9h.6M210.1 57.2h.6M169.0 16.5h.6M167.6 67.1h.6M169.5 78.9h.6M171.9 50.5h.6M186.1 63.9h.6M170.2 69.8h.6M176.5 34.7h.6M219.6 21.4h.6M197.9 67.0h.6M188.6 36.6h.6M173.3 16.9h.6M169.5 28.9h.6M180.9 69.5h.6M176.3 55.0h.6M181.0 73.0h.6M185.6 28.2h.6M217.3 47.4h.6M166.6 32.9h.6M198.1 21.8h.6M216.2 28.4h.6M176.9 62.1h.6M183.0 62.9h.6M183.2 77.1h.6M174.9 21.0h.6M185.1 42.8h.6M219.3 33.5h.6M212.7 14.2h.6M206.9 33.6h.6M201.6 61.1h.6M215.8 26.1h.6M223.4 34.4h.6M203.1 41.5h.6M194.0 55.9h.6M180.9 31.3h.6M211.0 24.3h.6M176.0 77.6h.6M180.2 80.7h.6M168.2 79.1h.6M212.6 17.3h.6M179.2 43.1h.6M179.3 23.9h.6M196.7 27.6h.6M185.5 23.4h.6M182.2 62.2h.6M225.1 38.2h.6M167.2 46.2h.6M186.5 36.5h.6M186.3 77.9h.6M192.4 28.3h.6M218.9 14.0h.6M205.5 19.3h.6M173.6 66.2h.6M180.3 35.3h.6M172.9 49.4h.6M190.8 40.3h.6M209.3 24.4h.6M182.2 19.8h.6M173.9 80.8h.6M191.0 21.9h.6M191.5 19.1h.6M186.0 45.3h.6M176.5 67.8h.6M185.7 51.9h.6M166.6 63.7h.6M206.1 34.1h.6M191.9 73.7h.6M197.8 21.4h.6M206.4 34.0h.6M205.7 37.0h.6M212.1 39.6h.6M171.0 55.6h.6M200.3 13.6h.6M175.8 72.4h.6M171.8 59.1h.6M198.9 66.1h.6M171.8 71.2h.6M168.7 72.7h.6M179.6 52.5h.6M172.8 54.3h.6M187.0 15.7h.6M189.9 18.1h.6M172.1 78.8h.6M204.9 16.2h.6M186.0 63.0h.6M204.1 60.3h.6M171.4 24.7h.6M181.8 43.2h.6M186.5 66.4h.6M194.4 40.7h.6M171.1 62.1h.6M216.4 30.7h.6M196.9 39.6h.6M194.1 59.6h.6M172.7 76.8h.6M220.1 29.9h.6M189.5 53.1h.6M182.3 22.2h.6M181.5 50.5h.6M183.7 44.8h.6M182.7 60.6h.6M182.3 20.7h.6M193.4 67.8h.6M171.7 38.6h.6M166.9 72.7h.6M167.9 29.5h.6M171.2 70.7h.6M167.8 68.5h.6M207.3 36.3h.6M221.1 17.9h.6M168.9 19.7h.6M186.6 72.7h.6M208.4 25.2h.6M183.6 77.9h.6M218.1 33.7h.6M167.3 79.5h.6M170.2 80.8h.6M205.4 43.2h.6M169.7 74.4h.6M172.7 44.8h.6M202.8 16.0h.6M186.6 60.4h.6M176.2 70.4h.6M226.4 13.8h.6M181.6 35.0h.6M167.9 50.6h.6M186.9 30.7h.6M195.9 56.2h.6M180.8 60.0h.6M223.8 25.1h.6M183.5 38.6h.6M166.5 29.8h.6M211.3 51.7h.6M166.6 30.1h.6M185.4 40.2h.6M195.5 35.6h.6M224.8 19.4h.6M198.7 65.3h.6M220.6 30.6h.6M211.5 28.2h.6M179.7 33.3h.6M176.7 44.7h.6M171.7 25.3h.6M190.1 67.9h.6M171.2 33.1h.6M195.8 21.2h.6M196.7 57.9h.6M177.4 76.9h.6M207.1 41.8h.6M169.2 53.2h.6M182.7 20.1h.6M223.8 13.6h.6M186.1 47.6h.6M213.0 33.3h.6M184.6 17.6h.6M189.1 76.7h.6M176.0 28.7h.6M167.1 54.4h.6M168.8 25.8h.6M188.5 55.0h.6M181.1 19.1h.6M172.9 75.8h.6M172.9 52.8h.6M180.7 74.3h.6M220.8 44.5h.6M199.8 50.4h.6M212.8 39.3h.6M225.3 19.9h.6M171.7 39.1h.6M194.4 59.4h.6M188.9 53.3h.6M177.0 61.9h.6M194.4 33.0h.6M225.2 15.0h.6M194.0 65.4h.6M170.2 67.3h.6M199.7 48.2h.6M200.0 49.7h.6M217.3 40.2h.6M178.7 16.0h.6M175.7 15.7h.6M168.0 81.2h.6M194.4 72.0h.6M191.3 76.7h.6M203.6 19.6h.6M167.6 58.0h.6M196.9 28.0h.6M166.7 72.1h.6M172.6 27.3h.6M169.3 19.1h.6M177.0 23.4h.6M191.8 64.8h.6M214.7 15.0h.6M177.1 75.2h.6M182.4 40.8h.6M224.6 13.9h.6M206.7 49.1h.6M182.1 21.8h.6M176.3 75.5h.6M171.6 75.1h.6M196.8 29.9h.6M195.8 48.4h.6M185.3 49.7h.6M166.7 79.5h.6M185.9 70.2h.6M169.0 54.4h.6M183.7 64.0h.6M202.6 27.1h.6M172.7 79.0h.6M168.6 64.3h.6M168.9 41.8h.6M185.9 65.8h.6M191.6 18.7h.6M179.0 64.8h.6M221.1 37.4h.6M186.3 74.2h.6M167.5 76.5h.6M216.1 41.9h.6M167.8 52.3h.6M180.7 77.5h.6M208.0 36.6h.6M191.5 74.1h.6M173.5 78.1h.6M203.9 13.9h.6M180.7 68.4h.6M186.4 74.7h.6M168.2 49.7h.6M227.7 20.1h.6M169.3 52.6h.6M190.1 72.6h.6M223.0 28.8h.6M189.8 76.2h.6M203.8 38.1h.6M167.4 36.7h.6M179.9 79.6h.6M196.4 36.1h.6M182.5 36.9h.6M177.5 15.3h.6M186.8 81.3h.6M169.0 35.8h.6M217.5 42.7h.6M171.5 24.1h.6M166.5 80.1h.6M181.7 23.9h.6M221.0 31.1h.6M189.7 63.9h.6M182.9 52.1h.6M191.1 58.5h.6M210.1 37.6h.6M210.9 51.6h.6M191.5 61.4h.6M178.2 59.6h.6M205.4 28.5h.6M174.2 56.2h.6M182.0 65.9h.6M182.1 33.6h.6M175.2 31.2h.6M201.5 39.7h.6M177.2 79.3h.6M182.1 80.5h.6M202.6 16.2h.6M180.8 77.2h.6M212.0 35.0h.6M190.0 61.8h.6M205.7 22.2h.6M216.2 24.5h.6M179.5 15.6h.6M172.8 74.6h.6M177.7 20.0h.6M216.4 22.6h.6M170.0 21.6h.6M186.9 59.9h.6M197.3 69.1h.6M183.2 81.2h.6M182.8 33.0h.6M180.5 39.4h.6M166.8 39.8h.6M198.4 66.7h.6M196.6 47.4h.6M180.1 42.1h.6M197.7 52.1h.6M170.1 71.6h.6M179.3 58.7h.6M182.3 21.6h.6M169.9 14.6h.6M175.5 25.4h.6M175.7 46.4h.6M183.1 80.3h.6M212.1 29.1h.6M189.5 14.5h.6M167.7 61.1h.6M174.9 43.6h.6M210.7 26.5h.6M176.6 33.7h.6M187.0 14.0h.6M168.9 55.5h.6M174.2 81.4h.6M169.0 78.0h.6M182.6 57.5h.6M191.3 67.0h.6M191.5 53.3h.6M174.0 23.6h.6M182.0 64.0h.6M198.7 48.2h.6M177.8 78.3h.6M192.9 64.5h.6M180.3 26.3h.6M180.9 58.6h.6M202.1 40.6h.6M187.4 59.4h.6M188.1 27.4h.6M183.0 35.2h.6M167.0 71.2h.6M189.0 72.4h.6M172.3 42.1h.6" stroke="#544aa4" stroke-width="0.6" opacity="0.66" fill="none"/>
<path d="M191.5 65.4h.6M189.7 44.2h.6M170.6 65.8h.6M203.2 49.5h.6M187.1 27.5h.6M182.3 56.4h.6M226.0 28.2h.6M223.0 15.8h.6M166.7 22.6h.6M187.0 27.5h.6M204.0 50.5h.6M167.0 64.0h.6M168.1 78.9h.6M177.6 20.1h.6M220.7 24.3h.6M222.4 29.1h.6M194.3 44.6h.6M173.4 17.1h.6M177.7 34.3h.6M174.7 71.3h.6M191.5 52.7h.6M208.2 23.8h.6M181.9 71.7h.6M181.4 35.3h.6M201.7 59.4h.6M191.3 31.0h.6M181.7 28.9h.6M169.1 67.8h.6M200.1 54.1h.6M183.1 47.1h.6M174.4 57.2h.6M166.5 30.1h.6M176.2 27.5h.6M194.3 45.4h.6M217.3 31.0h.6M186.8 39.9h.6M169.3 59.0h.6M191.5 75.1h.6M183.8 75.1h.6M172.8 47.2h.6M173.1 54.6h.6M193.3 57.1h.6M191.1 27.0h.6M173.5 80.2h.6M209.9 47.7h.6M193.3 71.3h.6M195.7 41.8h.6M168.1 42.2h.6M194.2 35.3h.6M176.0 78.3h.6M176.2 78.2h.6M190.1 69.4h.6M182.8 30.9h.6M174.7 81.2h.6M180.3 77.2h.6M204.6 31.5h.6M167.2 33.4h.6M185.2 19.2h.6M184.0 65.5h.6M168.3 17.8h.6M191.6 57.0h.6M186.8 32.5h.6M201.9 48.5h.6M175.8 48.6h.6M182.6 23.4h.6M170.5 66.3h.6M205.7 35.6h.6M201.6 41.1h.6M166.9 56.9h.6M180.1 45.7h.6M180.8 76.2h.6M193.9 29.3h.6M169.9 35.4h.6M168.1 18.8h.6M166.9 36.0h.6M182.6 73.4h.6M184.2 52.7h.6M185.4 76.5h.6M192.3 66.3h.6M186.7 70.7h.6M200.9 27.3h.6M177.6 77.1h.6M167.4 56.4h.6M187.0 32.9h.6M177.4 74.9h.6M192.1 58.0h.6M175.4 48.4h.6M185.5 80.4h.6M187.2 20.5h.6M178.9 46.5h.6M178.8 36.6h.6M166.8 61.4h.6M170.3 54.7h.6M166.7 75.0h.6M174.7 78.4h.6M168.9 72.6h.6M197.4 24.8h.6M169.3 79.2h.6M204.3 46.4h.6M190.6 73.1h.6M186.8 67.4h.6M196.6 66.4h.6M168.7 29.9h.6M190.5 70.6h.6M169.8 52.2h.6M191.1 36.3h.6M226.9 22.4h.6M176.4 28.8h.6M168.5 24.8h.6M172.4 68.8h.6M188.4 36.8h.6M169.4 54.5h.6M201.1 38.8h.6M167.4 72.8h.6M204.5 34.7h.6M201.2 59.6h.6M173.0 17.7h.6M225.6 31.8h.6M208.0 36.7h.6M223.4 27.3h.6M179.4 61.9h.6M212.3 26.5h.6M172.2 74.8h.6M180.8 77.5h.6M171.5 36.5h.6M174.7 26.1h.6M180.3 26.0h.6M178.8 68.3h.6M184.2 81.1h.6M186.7 61.1h.6M166.7 25.0h.6M183.0 81.4h.6M169.3 37.1h.6M196.4 52.5h.6M175.8 67.1h.6M170.2 26.1h.6M166.8 37.0h.6M213.1 38.2h.6M194.1 28.9h.6M176.9 59.8h.6M173.1 37.2h.6M195.7 31.6h.6M199.6 45.6h.6M195.3 64.6h.6M205.3 19.2h.6M200.8 40.8h.6M187.3 55.5h.6M203.6 22.4h.6M190.4 64.1h.6M224.3 13.7h.6M166.8 54.2h.6M185.2 17.3h.6M185.3 25.9h.6M210.8 46.5h.6M175.4 66.0h.6M190.3 60.1h.6M180.0 45.0h.6M180.7 81.1h.6M169.0 79.6h.6M185.9 27.0h.6M204.6 16.3h.6M183.5 68.7h.6M190.3 59.5h.6M169.4 35.4h.6M212.4 45.6h.6M218.0 14.5h.6M177.4 20.1h.6M214.4 22.2h.6M175.9 47.2h.6M183.2 66.6h.6M209.4 44.3h.6M188.2 49.0h.6M206.8 16.0h.6M200.0 50.4h.6M205.2 17.9h.6M175.4 61.0h.6M174.8 37.5h.6M192.7 45.1h.6M180.1 46.5h.6M224.7 31.6h.6M191.9 60.7h.6M181.3 29.7h.6M172.4 48.6h.6M210.4 18.8h.6M190.4 18.8h.6M171.9 26.7h.6M184.3 49.4h.6M170.6 66.1h.6M204.9 47.0h.6M170.1 29.8h.6M191.3 75.4h.6M174.4 18.5h.6M166.5 24.5h.6M200.0 27.3h.6M179.5 39.1h.6M203.7 26.0h.6M195.3 67.8h.6M170.7 25.1h.6M204.6 39.9h.6M169.2 67.4h.6M210.2 55.2h.6M169.5 63.2h.6M168.3 33.7h.6M168.9 40.4h.6M168.7 69.6h.6M202.1 24.0h.6M167.1 63.7h.6M175.6 30.9h.6M205.9 31.2h.6M192.9 37.9h.6M178.3 67.4h.6M180.1 67.4h.6M217.4 42.6h.6M222.0 18.5h.6M187.6 48.0h.6M176.5 77.4h.6M191.0 32.5h.6M171.6 57.6h.6M170.2 42.7h.6M207.8 19.9h.6M191.8 67.1h.6M187.3 55.1h.6M182.9 27.6h.6M174.2 33.7h.6M188.8 59.0h.6M173.4 29.9h.6M183.0 58.8h.6M196.0 22.6h.6M168.2 51.5h.6M196.4 56.5h.6M172.2 18.5h.6M197.0 49.7h.6M186.1 69.4h.6M179.6 53.3h.6M187.4 15.2h.6M167.7 74.6h.6M181.3 31.4h.6M167.4 79.1h.6M202.4 38.7h.6M183.3 20.2h.6M167.4 53.7h.6M167.2 35.0h.6M172.9 73.3h.6M201.5 60.3h.6M195.0 72.8h.6M193.0 42.6h.6M169.3 64.1h.6M175.1 26.5h.6M166.7 56.7h.6M217.8 31.3h.6M175.1 37.5h.6M178.6 36.1h.6M181.5 33.1h.6M195.7 28.7h.6M193.8 60.6h.6M174.0 31.2h.6M194.2 33.5h.6M176.5 40.5h.6M209.6 42.7h.6M193.2 45.7h.6M179.3 63.6h.6M169.1 63.2h.6M207.0 47.2h.6M172.3 35.4h.6M169.9 33.8h.6M171.2 77.7h.6M176.1 51.7h.6M177.1 23.1h.6M224.3 17.1h.6M179.9 72.4h.6M186.4 21.9h.6M166.9 27.1h.6M179.2 81.1h.6M174.1 76.8h.6M182.5 76.6h.6M172.6 69.4h.6M196.1 56.6h.6M210.4 36.0h.6M181.2 20.3h.6M211.7 48.3h.6M170.6 23.0h.6M222.3 22.9h.6M175.4 50.2h.6M190.7 40.5h.6M186.0 14.9h.6M173.0 37.0h.6M167.3 67.9h.6M170.0 75.1h.6M192.7 73.7h.6M170.3 71.3h.6M181.2 16.2h.6M193.9 18.4h.6M210.4 34.0h.6M211.1 36.0h.6M179.7 39.0h.6M185.1 33.9h.6M167.4 19.0h.6M183.6 29.7h.6M189.0 29.0h.6M166.9 53.6h.6M168.5 25.1h.6M203.1 58.1h.6M226.4 17.9h.6M205.1 35.7h.6M197.3 28.8h.6M177.4 80.6h.6M228.1 34.7h.6M174.0 75.2h.6M220.1 40.6h.6M185.3 17.9h.6M166.5 58.5h.6M167.8 13.6h.6M169.4 17.3h.6M215.6 35.4h.6M167.4 38.2h.6M190.4 53.4h.6M188.2 41.9h.6M195.5 22.6h.6M166.7 64.5h.6M179.4 76.4h.6M185.6 80.4h.6M207.0 33.3h.6M178.8 35.6h.6M173.8 48.8h.6M197.3 31.9h.6M214.3 29.6h.6M206.6 34.3h.6M201.0 31.6h.6M201.6 46.3h.6M186.1 58.3h.6M186.5 48.4h.6M182.2 60.4h.6M186.1 61.7h.6M184.2 56.4h.6M197.0 62.0h.6M175.5 81.0h.6M218.2 18.5h.6M180.0 79.4h.6M219.7 27.0h.6M175.6 69.1h.6M204.7 30.2h.6M175.2 30.1h.6M217.4 25.3h.6M169.8 46.0h.6M167.9 35.4h.6M168.2 29.2h.6M202.3 54.7h.6M219.6 19.1h.6M196.8 58.3h.6M176.0 19.4h.6M195.7 64.7h.6M186.9 28.9h.6M172.7 36.3h.6M180.4 18.1h.6M185.1 43.7h.6M200.3 63.6h.6M167.1 76.4h.6M176.3 46.5h.6M177.4 31.4h.6M171.5 68.7h.6M186.9 21.1h.6M172.0 72.7h.6M170.5 71.5h.6M180.5 60.1h.6M210.4 21.5h.6M186.1 20.0h.6M176.1 15.3h.6M192.5 39.3h.6M170.7 23.0h.6M182.1 38.0h.6M188.3 50.9h.6M173.9 73.6h.6M180.7 39.3h.6M168.2 68.8h.6M174.1 28.1h.6M194.2 64.6h.6M176.0 66.9h.6M177.6 63.3h.6M211.7 30.9h.6M167.4 74.3h.6M176.5 50.8h.6M214.1 46.6h.6M227.0 33.7h.6M181.0 80.0h.6M201.4 62.7h.6M212.8 15.2h.6M200.7 39.3h.6M168.8 14.7h.6M167.4 44.6h.6M181.5 73.1h.6M186.7 19.2h.6M175.9 74.3h.6M199.7 41.2h.6M191.5 73.4h.6M172.4 69.9h.6M191.7 54.5h.6M194.4 35.8h.6M167.4 27.5h.6M166.8 65.2h.6M171.0 45.3h.6M178.4 25.8h.6M185.0 74.8h.6M170.6 74.3h.6M184.6 76.2h.6M183.6 49.1h.6M194.3 59.5h.6M180.4 19.0h.6M217.4 20.1h.6M209.7 50.2h.6M169.9 69.1h.6M169.2 23.8h.6M179.9 59.3h.6M205.2 30.3h.6M179.7 75.3h.6M209.4 38.4h.6M182.8 63.5h.6M171.4 27.4h.6M188.3 29.0h.6M191.7 34.3h.6M217.2 33.1h.6M194.5 62.3h.6M168.7 72.6h.6M194.4 50.0h.6M185.1 48.7h.6M168.9 20.1h.6M169.4 75.6h.6M202.8 42.4h.6M166.6 70.2h.6M171.6 50.8h.6M220.3 34.1h.6M184.4 54.3h.6M177.5 16.7h.6M211.0 39.4h.6M190.0 30.1h.6M182.3 23.3h.6M203.7 56.3h.6M192.8 16.8h.6M166.6 22.0h.6M205.9 53.6h.6M180.8 36.8h.6M168.4 47.7h.6M179.9 68.7h.6M187.4 78.6h.6M221.0 26.9h.6M179.2 45.3h.6M181.3 15.5h.6M224.9 35.8h.6M170.3 58.2h.6M227.3 27.2h.6M177.3 79.5h.6M192.7 66.3h.6M202.9 48.4h.6M207.4 38.7h.6M205.9 54.9h.6M167.3 55.2h.6M217.1 23.5h.6M190.1 73.7h.6M177.1 34.9h.6M181.5 45.7h.6M169.7 26.4h.6M180.8 21.1h.6M180.3 66.0h.6M172.4 16.3h.6M196.9 27.9h.6M168.0 49.7h.6M207.3 14.8h.6M182.9 13.5h.6M193.1 17.0h.6M176.2 80.7h.6M196.0 19.0h.6M224.1 23.7h.6M166.8 58.7h.6M182.5 46.8h.6M175.4 37.2h.6M171.0 78.6h.6M228.3 30.0h.6M226.0 19.6h.6M207.1 40.2h.6M173.5 25.2h.6M166.9 50.1h.6M197.0 57.8h.6M166.5 77.9h.6M217.2 23.3h.6M172.4 81.3h.6M208.9 45.6h.6M186.4 70.1h.6M196.8 15.0h.6M174.0 78.7h.6M179.6 54.6h.6M171.8 59.6h.6M169.3 43.4h.6M187.8 20.3h.6M169.5 34.2h.6M202.6 61.8h.6M209.2 54.8h.6M189.0 39.0h.6M172.9 55.4h.6M194.1 22.1h.6M199.8 34.9h.6M175.9 38.6h.6" stroke="#8d86c6" stroke-width="0.6" opacity="0.6" fill="none"/>
<ellipse cx="168.8" cy="70" rx="4.2" ry="12.5" fill="#2c8fc9" filter="url(#b1)"/>
<ellipse cx="168" cy="74" rx="2.5" ry="8" fill="#57c84a" filter="url(#b1)"/>
<ellipse cx="167.4" cy="76.5" rx="1.7" ry="5" fill="#f4e22b" filter="url(#b0)"/>
<ellipse cx="166.9" cy="78.4" rx="1" ry="2.8" fill="#f39a1e" filter="url(#b0)"/>
<ellipse cx="189.2" cy="68.2" rx="7.4" ry="13.4" fill="#2b3a97" transform="rotate(38 189.2 68.2)" filter="url(#b1)"/>
<ellipse cx="188.4" cy="69.2" rx="5.4" ry="11.6" fill="#2d82c6" transform="rotate(38 188.4 69.2)" filter="url(#b1)"/>
<ellipse cx="187" cy="71.2" rx="3.8" ry="8.6" fill="#38b0b4" transform="rotate(36 187 71.2)" filter="url(#b1)"/>
<ellipse cx="182.2" cy="73.8" rx="1.5" ry="4.4" fill="#6ed03c" transform="rotate(16 182.2 73.8)" filter="url(#b0)"/>
<ellipse cx="187" cy="72.2" rx="1.6" ry="4.6" fill="#6ed03c" transform="rotate(28 187 72.2)" filter="url(#b0)"/>
<ellipse cx="182" cy="75" rx="0.8" ry="2" fill="#d8e232" transform="rotate(16 182 75)" filter="url(#b0)"/>
<path transform="translate(-1.2 0.6)" d="M181.6 77.5C181 69 185.5 58.6 193.5 55.6C199.5 53.6 202.8 57.6 201.2 63.6C199.4 70 191 78 184.6 79.2C182.8 79.4 181.8 78.8 181.6 77.5Z" fill="none" stroke="#1d2360" stroke-width="0.6"/>
<ellipse cx="170.8" cy="15.8" rx="2.6" ry="1.7" fill="none" stroke="#1c1c5e" stroke-width="0.8" transform="rotate(-25 170.8 15.8)"/>
</g>
<rect x="166.5" y="13" width="61.9" height="68.4" fill="none" stroke="#7d7d7d" stroke-width="0.7"/>
<path d="M165.6 14V81.4" stroke="#555" stroke-width="1.1" stroke-dasharray="0.45 0.85"/>
<path d="M166.5 82.3H227.4" stroke="#555" stroke-width="1.1" stroke-dasharray="0.45 0.85"/>
<path d="M166.2 81.3h-2" stroke="#222" stroke-width="0.7"/>
<text x="163.5" y="83.05" font-size="5" text-anchor="end">0</text>
<path d="M166.2 68.34h-2" stroke="#222" stroke-width="0.7"/>
<text x="163.5" y="70.09" font-size="5" text-anchor="end">50K</text>
<path d="M166.2 55.38h-2" stroke="#222" stroke-width="0.7"/>
<text x="163.5" y="57.13" font-size="5" text-anchor="end">100K</text>
<path d="M166.2 42.42h-2" stroke="#222" stroke-width="0.7"/>
<text x="163.5" y="44.17" font-size="5" text-anchor="end">150K</text>
<path d="M166.2 29.46h-2" stroke="#222" stroke-width="0.7"/>
<text x="163.5" y="31.21" font-size="5" text-anchor="end">200K</text>
<path d="M166.2 16.5h-2" stroke="#222" stroke-width="0.7"/>
<text x="163.5" y="18.25" font-size="5" text-anchor="end">250K</text>
<path d="M166.8 81.7v2" stroke="#222" stroke-width="0.7"/>
<text x="169.1" y="88.4" font-size="5" text-anchor="end" transform="rotate(-45 169.1 88.4)">0</text>
<path d="M178.52 81.7v2" stroke="#222" stroke-width="0.7"/>
<text x="180.82" y="88.4" font-size="5" text-anchor="end" transform="rotate(-45 180.82 88.4)">50K</text>
<path d="M190.24 81.7v2" stroke="#222" stroke-width="0.7"/>
<text x="192.54" y="88.4" font-size="5" text-anchor="end" transform="rotate(-45 192.54 88.4)">100K</text>
<path d="M201.96 81.7v2" stroke="#222" stroke-width="0.7"/>
<text x="204.26" y="88.4" font-size="5" text-anchor="end" transform="rotate(-45 204.26 88.4)">150K</text>
<path d="M213.68 81.7v2" stroke="#222" stroke-width="0.7"/>
<text x="215.98" y="88.4" font-size="5" text-anchor="end" transform="rotate(-45 215.98 88.4)">200K</text>
<path d="M225.4 81.7v2" stroke="#222" stroke-width="0.7"/>
<text x="227.7" y="88.4" font-size="5" text-anchor="end" transform="rotate(-45 227.7 88.4)">250K</text>
<text x="196.65" y="105.6" font-size="7.6" text-anchor="middle" textLength="15.5" lengthAdjust="spacingAndGlyphs" class="c">FSC-A</text>
<text class="c" x="0" y="0" font-size="7.6" text-anchor="middle" textLength="16.03" lengthAdjust="spacingAndGlyphs" transform="translate(146.4 48.5) rotate(-90)">SSC-A</text>
<path d="M210.8 78.2L234 78.2" stroke="#000" stroke-width="0.9"/>
<path d="M237.6 78.2L232.8 80.5L233.7 78.2L232.8 75.9Z" fill="#000"/>
<clipPath id="c2"><rect x="263.6" y="13" width="62" height="68.4"/></clipPath>
<g clip-path="url(#c2)">
<path d="M276 73.6L298.6 53.6L298.8 60.5L294 66.5L286 71.4L279 75Z" fill="#6a62b8" opacity="0.5" filter="url(#b1)"/>
<path d="M298.5 60.3h.6M288.6 66.0h.6M292.7 60.1h.6M286.7 65.2h.6M298.2 56.7h.6M289.4 62.6h.6M294.3 62.2h.6M293.0 63.4h.6M276.2 73.4h.6M288.5 62.8h.6M277.8 73.4h.6M283.4 67.4h.6M296.2 62.9h.6M287.0 66.7h.6M292.1 61.5h.6M294.9 57.6h.6M276.5 73.0h.6M296.6 58.3h.6M289.9 63.4h.6M291.9 60.1h.6M295.4 60.7h.6M287.7 65.7h.6M290.3 63.4h.6M298.4 55.7h.6M297.2 59.7h.6M293.5 60.5h.6M281.7 71.3h.6M293.1 59.7h.6M292.3 60.1h.6M297.2 57.3h.6M290.5 63.1h.6M286.8 64.3h.6M279.4 73.2h.6M295.5 57.4h.6M276.5 73.4h.6M294.0 58.5h.6M295.4 57.9h.6M281.1 71.5h.6M277.1 74.1h.6M295.7 59.6h.6M290.2 61.5h.6M281.1 71.9h.6M286.2 70.4h.6M288.2 62.9h.6M294.8 58.4h.6M298.3 58.3h.6M294.8 64.1h.6M279.9 71.5h.6M294.4 57.8h.6M286.6 66.0h.6M298.3 57.4h.6M281.3 69.4h.6M298.5 59.3h.6M290.2 61.1h.6M294.7 58.8h.6M294.3 60.1h.6M293.6 60.0h.6M296.1 57.7h.6M294.2 60.3h.6M291.1 61.4h.6M279.7 71.1h.6M281.2 69.6h.6M278.7 71.4h.6M292.0 63.8h.6M283.4 67.5h.6M292.1 64.5h.6M284.0 68.1h.6M285.0 66.4h.6M281.9 69.7h.6M297.4 58.3h.6M282.6 67.9h.6M279.1 72.2h.6M285.7 67.2h.6M297.1 56.0h.6M291.3 62.4h.6M295.0 60.0h.6M287.1 69.9h.6M295.1 56.8h.6M281.3 69.6h.6M292.8 60.1h.6M281.4 70.5h.6M276.6 73.0h.6M284.7 66.7h.6M276.3 73.5h.6M284.8 65.8h.6M288.1 64.9h.6M287.0 64.0h.6M295.9 56.7h.6M294.2 57.8h.6M284.1 66.3h.6M296.9 57.4h.6M295.6 56.9h.6M296.8 58.1h.6M291.0 62.5h.6M281.0 69.9h.6M293.1 62.2h.6M292.3 61.2h.6M279.5 71.3h.6M277.3 73.4h.6M297.0 60.8h.6M279.7 70.3h.6M286.7 65.4h.6M283.3 69.1h.6M295.8 60.7h.6M287.5 65.0h.6M291.3 60.9h.6M293.1 58.8h.6M280.5 70.9h.6M295.2 57.4h.6M285.2 66.4h.6M292.5 61.3h.6M296.1 58.9h.6M294.4 58.3h.6M282.5 69.7h.6M284.3 66.6h.6M286.8 64.7h.6M296.7 56.2h.6M283.8 67.3h.6M291.6 60.4h.6M280.3 69.7h.6M291.1 61.1h.6M294.8 57.8h.6M284.3 68.1h.6M286.6 65.6h.6M297.6 57.4h.6M290.6 62.3h.6M295.9 61.5h.6M290.6 61.0h.6M293.8 62.7h.6M298.0 60.9h.6M294.6 58.1h.6M288.7 65.4h.6M284.1 66.6h.6M293.7 60.0h.6M289.6 65.0h.6M294.0 59.8h.6M298.3 60.2h.6M284.9 65.7h.6M293.0 65.4h.6M288.8 62.4h.6M287.0 66.3h.6M290.5 61.3h.6M285.9 66.7h.6M279.5 71.3h.6M282.6 69.1h.6M289.9 62.1h.6M290.4 61.9h.6M277.4 72.6h.6M291.0 62.5h.6M286.8 64.3h.6M286.1 64.7h.6M295.2 60.3h.6M276.6 73.4h.6M287.2 64.8h.6M287.8 67.5h.6M288.6 66.4h.6M291.3 63.8h.6M291.6 60.7h.6M295.7 56.7h.6M297.8 55.2h.6M290.5 61.6h.6M294.3 58.0h.6M287.3 64.7h.6M297.2 57.1h.6M287.2 64.4h.6M283.9 70.4h.6M285.0 71.0h.6M281.0 69.4h.6M283.6 67.0h.6M288.1 63.7h.6M295.0 58.2h.6M281.0 71.6h.6M296.7 59.1h.6M289.3 65.3h.6M296.8 57.8h.6M282.0 68.4h.6M289.8 62.8h.6M296.5 56.2h.6M291.3 61.1h.6M289.5 62.7h.6M289.2 63.4h.6M297.3 56.5h.6M293.9 61.9h.6M296.3 56.0h.6M297.8 55.4h.6M296.4 56.2h.6M282.4 67.9h.6M290.1 62.5h.6M291.4 62.9h.6M281.7 68.9h.6M293.8 60.3h.6M295.8 56.8h.6M297.5 63.3h.6M279.5 72.2h.6M287.6 64.9h.6M294.3 58.2h.6M297.0 57.7h.6M298.0 57.4h.6M296.7 56.8h.6M289.0 62.4h.6M290.2 61.4h.6M285.2 66.6h.6M298.3 58.8h.6M280.3 69.8h.6M294.4 63.5h.6M283.9 68.5h.6M296.5 55.7h.6M280.0 70.3h.6M279.7 72.9h.6M286.9 67.6h.6M293.8 61.4h.6M290.6 61.3h.6M280.4 70.9h.6M286.3 65.5h.6M295.8 56.8h.6M280.7 70.0h.6M278.9 71.1h.6M298.0 59.1h.6M298.0 55.4h.6M295.1 58.0h.6M294.6 67.1h.6M291.7 61.2h.6M281.1 69.2h.6M291.9 60.9h.6M292.2 59.6h.6M276.9 72.7h.6M298.1 54.4h.6M296.4 58.2h.6M280.8 70.0h.6M291.0 65.7h.6M291.9 63.3h.6M292.0 59.6h.6M294.8 58.6h.6M283.9 66.6h.6M292.7 60.0h.6M284.5 66.4h.6M295.2 59.5h.6M297.9 55.2h.6M291.4 60.2h.6M296.2 60.0h.6" stroke="#5d55b0" stroke-width="0.55" opacity="0.7" fill="none"/>
<path d="M275.4 72L298.2 52.6" stroke="#262c84" stroke-width="2" fill="none"/>
<path d="M274.6 70.9L296 52.8" stroke="#2f8fcc" stroke-width="0.9" fill="none"/>
<path d="M274.4 70.6L286 60.8" stroke="#62c860" stroke-width="0.9" fill="none"/>
<path d="M272.1 69.4L298.5 50L299.2 52.2L273.6 73.9L272.1 72.8Z" fill="none" stroke="#222" stroke-width="0.6"/>
</g>
<rect x="263.6" y="13" width="62" height="68.4" fill="none" stroke="#7d7d7d" stroke-width="0.7"/>
<path d="M262.7 14V81.4" stroke="#555" stroke-width="1.1" stroke-dasharray="0.45 0.85"/>
<path d="M263.6 82.3H324.6" stroke="#555" stroke-width="1.1" stroke-dasharray="0.45 0.85"/>
<path d="M263.3 81.3h-2" stroke="#222" stroke-width="0.7"/>
<text x="260.6" y="83.05" font-size="5" text-anchor="end">0</text>
<path d="M263.3 68.34h-2" stroke="#222" stroke-width="0.7"/>
<text x="260.6" y="70.09" font-size="5" text-anchor="end">50K</text>
<path d="M263.3 55.38h-2" stroke="#222" stroke-width="0.7"/>
<text x="260.6" y="57.13" font-size="5" text-anchor="end">100K</text>
<path d="M263.3 42.42h-2" stroke="#222" stroke-width="0.7"/>
<text x="260.6" y="44.17" font-size="5" text-anchor="end">150K</text>
<path d="M263.3 29.46h-2" stroke="#222" stroke-width="0.7"/>
<text x="260.6" y="31.21" font-size="5" text-anchor="end">200K</text>
<path d="M263.3 16.5h-2" stroke="#222" stroke-width="0.7"/>
<text x="260.6" y="18.25" font-size="5" text-anchor="end">250K</text>
<path d="M263.9 81.7v2" stroke="#222" stroke-width="0.7"/>
<text x="266.2" y="88.4" font-size="5" text-anchor="end" transform="rotate(-45 266.2 88.4)">0</text>
<path d="M275.62 81.7v2" stroke="#222" stroke-width="0.7"/>
<text x="277.92" y="88.4" font-size="5" text-anchor="end" transform="rotate(-45 277.92 88.4)">50K</text>
<path d="M287.34 81.7v2" stroke="#222" stroke-width="0.7"/>
<text x="289.64" y="88.4" font-size="5" text-anchor="end" transform="rotate(-45 289.64 88.4)">100K</text>
<path d="M299.06 81.7v2" stroke="#222" stroke-width="0.7"/>
<text x="301.36" y="88.4" font-size="5" text-anchor="end" transform="rotate(-45 301.36 88.4)">150K</text>
<path d="M310.78 81.7v2" stroke="#222" stroke-width="0.7"/>
<text x="313.08" y="88.4" font-size="5" text-anchor="end" transform="rotate(-45 313.08 88.4)">200K</text>
<path d="M322.5 81.7v2" stroke="#222" stroke-width="0.7"/>
<text x="324.8" y="88.4" font-size="5" text-anchor="end" transform="rotate(-45 324.8 88.4)">250K</text>
<text x="293.8" y="105.6" font-size="7.6" text-anchor="middle" textLength="15.5" lengthAdjust="spacingAndGlyphs" class="c">FSC-A</text>
<text class="c" x="0" y="0" font-size="7.6" text-anchor="middle" textLength="16.02" lengthAdjust="spacingAndGlyphs" transform="translate(244.5 48.5) rotate(-90)">FSC-H</text>
<path d="M306 78.2L327.8 78.2" stroke="#000" stroke-width="0.9"/>
<path d="M331.4 78.2L326.6 80.5L327.5 78.2L326.6 75.9Z" fill="#000"/>
<clipPath id="c3"><rect x="356.9" y="13" width="60.9" height="68.6"/></clipPath>
<g clip-path="url(#c3)">
<ellipse cx="376" cy="42" rx="6.5" ry="20" fill="#8a83c8" opacity="0.16" filter="url(#b2)"/>
<path d="M375.0 45.4h.6M375.3 60.5h.6M373.2 45.5h.6M373.7 34.7h.6M379.6 18.9h.6M372.4 42.6h.6M373.9 54.6h.6M377.8 40.9h.6M374.1 31.8h.6M374.3 42.7h.6M374.8 52.5h.6M371.8 42.3h.6M373.6 55.2h.6M374.3 57.5h.6M374.8 22.3h.6M372.6 47.5h.6M381.7 49.3h.6M372.7 35.4h.6M378.8 27.2h.6M374.0 36.6h.6M372.9 45.7h.6M379.1 24.2h.6M371.9 19.8h.6M375.1 47.8h.6M382.2 44.4h.6M376.5 58.1h.6M377.5 33.0h.6M372.3 40.8h.6M376.9 17.3h.6M373.5 36.2h.6M373.5 42.6h.6M378.3 41.3h.6M379.4 23.3h.6M375.1 19.7h.6M373.3 48.3h.6M378.1 42.3h.6M376.9 55.1h.6M372.3 46.3h.6M373.7 57.6h.6M371.8 44.1h.6M375.4 58.3h.6M378.4 56.2h.6M377.1 23.3h.6M378.9 40.8h.6M372.9 26.3h.6M375.7 56.2h.6M371.2 21.9h.6M371.6 44.6h.6M378.3 56.6h.6M373.2 24.3h.6M374.1 35.2h.6M372.6 26.6h.6M372.6 48.4h.6M371.4 48.0h.6M378.8 22.6h.6M376.3 56.3h.6M383.4 41.9h.6M374.4 22.9h.6M372.0 60.4h.6M374.3 43.8h.6M376.2 35.0h.6M374.7 48.6h.6M372.5 32.7h.6M376.9 39.0h.6M371.9 27.0h.6M374.9 41.6h.6M372.1 32.5h.6M372.7 60.0h.6M372.0 34.0h.6M380.4 23.2h.6M382.1 53.0h.6M372.0 20.9h.6M373.2 41.6h.6M378.3 48.7h.6M374.5 49.9h.6M371.5 25.5h.6M374.9 45.0h.6M381.0 42.7h.6M372.6 37.5h.6M377.2 44.4h.6M376.1 20.3h.6M371.7 60.9h.6M377.7 27.1h.6M375.4 55.8h.6M373.0 48.2h.6M380.7 46.4h.6M371.2 55.1h.6M375.3 44.0h.6M371.5 31.7h.6M381.5 38.6h.6M372.4 56.6h.6M372.7 49.5h.6M377.9 56.7h.6M371.4 22.2h.6M376.3 43.7h.6M377.5 42.2h.6M371.2 48.9h.6M374.9 35.6h.6M381.9 60.0h.6M375.5 32.7h.6M373.6 36.4h.6M371.2 22.5h.6M384.8 52.4h.6M371.1 36.6h.6M373.1 21.2h.6M383.6 55.5h.6M372.3 59.3h.6M372.6 48.0h.6M375.4 46.6h.6M374.7 43.4h.6M378.9 35.0h.6M379.6 18.0h.6M372.4 48.4h.6M378.8 22.5h.6M381.5 36.6h.6M376.4 41.2h.6M374.6 47.6h.6M371.6 21.7h.6M379.4 27.0h.6M374.4 52.3h.6M381.1 53.5h.6M373.0 59.1h.6M372.4 54.7h.6M377.8 54.0h.6M376.6 28.1h.6M376.9 35.5h.6M376.0 53.1h.6M380.7 33.4h.6M372.9 21.7h.6M371.1 35.0h.6M382.9 36.4h.6M377.3 37.6h.6M375.2 47.4h.6M376.4 39.8h.6M384.4 32.8h.6M374.4 43.3h.6M374.0 26.5h.6M371.4 42.5h.6M372.8 21.6h.6M376.6 58.7h.6M378.4 20.7h.6M379.7 48.2h.6M373.6 39.0h.6M374.4 52.2h.6M376.3 38.2h.6M373.3 43.1h.6M373.6 28.7h.6M384.4 25.7h.6M375.9 50.9h.6M372.5 20.3h.6M373.3 58.4h.6M375.7 33.8h.6M375.4 43.6h.6M373.0 32.9h.6M373.7 50.4h.6M376.0 33.4h.6M377.8 50.8h.6M372.9 48.3h.6M373.1 24.6h.6M372.0 26.5h.6M372.4 48.6h.6M374.2 35.6h.6M374.4 31.3h.6M373.2 28.3h.6M376.1 45.4h.6M377.6 31.6h.6M374.1 39.3h.6M378.7 46.5h.6M374.3 23.5h.6M375.9 36.6h.6M376.0 47.7h.6M372.8 23.3h.6M372.7 37.0h.6M381.9 36.9h.6M375.2 29.6h.6M371.3 25.5h.6M373.5 59.5h.6M377.1 59.7h.6M380.3 55.2h.6M380.4 19.3h.6M381.3 56.5h.6M381.9 46.9h.6M375.3 39.2h.6M375.0 26.4h.6M375.2 25.2h.6M372.3 56.4h.6M381.0 33.5h.6M376.1 45.3h.6M372.7 29.6h.6M381.2 48.1h.6M375.6 22.8h.6M372.7 41.7h.6M381.0 29.3h.6M372.5 28.4h.6M374.4 30.7h.6M380.3 47.6h.6M373.2 50.4h.6M371.5 42.1h.6M375.7 58.9h.6M375.0 37.8h.6M376.4 42.5h.6M373.0 20.6h.6M376.4 35.9h.6M375.9 33.1h.6M375.9 55.3h.6M382.8 37.2h.6M376.6 29.2h.6M375.2 19.9h.6M371.3 44.9h.6M374.3 18.7h.6M374.3 48.3h.6M371.5 46.7h.6M379.1 43.2h.6M371.5 18.4h.6M377.2 55.9h.6M372.7 20.5h.6M374.2 29.9h.6M376.4 38.4h.6M377.5 30.1h.6M374.3 50.1h.6M374.9 46.9h.6M378.5 50.5h.6M375.4 49.4h.6M372.4 38.0h.6M379.1 52.5h.6M377.3 46.2h.6M371.9 59.9h.6M383.0 59.2h.6M376.4 49.3h.6M379.7 55.3h.6M372.9 37.9h.6M376.7 53.6h.6M374.9 56.5h.6M376.7 19.8h.6M377.1 23.8h.6M371.5 55.4h.6M380.7 30.3h.6M377.0 25.8h.6M371.2 38.6h.6M379.3 46.1h.6" stroke="#7a72c0" stroke-width="0.5" opacity="0.6" fill="none"/>
<rect x="368.8" y="16.9" width="6.6" height="1" fill="#3d3d9e" opacity="0.55" filter="url(#b0)"/>
<rect x="368.4" y="21.2" width="8.6" height="1.5" fill="#34349a" opacity="0.7" filter="url(#b0)"/>
<path d="M372.3 18.0h.6M372.2 17.2h.6M371.4 16.7h.6M369.1 17.8h.6M373.8 18.2h.6M372.2 17.0h.6M370.5 17.6h.6M372.2 17.5h.6M376.1 17.6h.6M374.5 17.1h.6M375.2 16.3h.6M369.4 17.5h.6M370.4 16.5h.6M371.3 17.3h.6M370.1 17.8h.6M371.0 17.0h.6M369.6 16.5h.6M370.6 17.5h.6M373.5 17.3h.6M377.3 17.4h.6M370.0 16.1h.6M369.5 17.0h.6M368.9 17.5h.6M375.8 17.7h.6M371.9 17.8h.6M371.9 17.5h.6M369.4 17.0h.6M371.3 18.5h.6M369.7 17.2h.6M372.0 17.2h.6M373.3 18.0h.6M370.2 17.8h.6M374.4 16.5h.6M372.9 16.6h.6M369.4 17.7h.6M375.2 18.2h.6M368.9 17.0h.6M371.5 17.6h.6M376.0 16.6h.6M374.7 17.1h.6" stroke="#3d3a98" stroke-width="0.6" opacity="0.9" fill="none"/>
<path d="M370.4 21.5h.6M372.5 21.5h.6M373.2 21.7h.6M377.8 21.6h.6M369.4 21.4h.6M380.3 23.0h.6M371.3 22.1h.6M379.8 21.9h.6M369.7 22.9h.6M369.4 22.1h.6M376.4 22.2h.6M371.2 21.9h.6M368.9 21.4h.6M376.2 22.0h.6M372.8 23.0h.6M369.4 21.6h.6M379.1 22.5h.6M373.2 21.4h.6M369.4 21.7h.6M369.6 22.3h.6M374.4 21.4h.6M373.8 22.8h.6M377.6 22.9h.6M372.9 22.5h.6M374.6 22.0h.6M371.7 22.8h.6M376.0 21.6h.6M370.6 21.7h.6M376.4 22.7h.6M373.4 22.0h.6M375.9 21.6h.6M372.6 22.5h.6M376.4 22.5h.6M370.2 22.2h.6M374.0 21.9h.6M369.9 22.3h.6M378.8 21.1h.6M376.2 22.8h.6M370.3 21.8h.6M379.4 21.9h.6M374.6 22.5h.6M372.8 22.4h.6M375.2 21.6h.6M374.5 23.2h.6M368.8 22.4h.6M370.6 20.8h.6M375.8 22.7h.6M368.8 20.9h.6M377.8 21.9h.6M375.4 23.0h.6M372.4 22.8h.6M380.5 21.3h.6M379.9 21.0h.6M375.2 21.5h.6M371.6 21.2h.6M369.8 21.9h.6M370.2 22.5h.6M375.6 20.9h.6M375.5 21.1h.6M375.1 21.9h.6M368.6 20.4h.6M369.7 22.4h.6M372.4 22.3h.6M377.6 22.1h.6M368.7 22.2h.6M378.3 20.9h.6M370.2 22.4h.6M372.2 21.7h.6M379.7 21.0h.6M369.0 21.6h.6" stroke="#3d3a98" stroke-width="0.6" opacity="0.9" fill="none"/>
<path d="M383.5 66.1h.6M388.3 70.1h.6M378.0 75.1h.6M376.0 63.9h.6M376.5 62.9h.6M375.3 65.8h.6M384.1 60.5h.6M368.6 63.3h.6M376.0 67.6h.6M372.8 71.3h.6M374.5 65.3h.6M378.5 70.1h.6M380.1 66.1h.6M374.4 66.6h.6M380.8 64.8h.6M377.9 59.6h.6M374.5 70.1h.6M387.7 65.8h.6M363.5 72.4h.6M376.9 75.0h.6M375.3 69.5h.6M373.9 70.8h.6M385.9 62.3h.6M386.8 76.0h.6M376.6 61.8h.6M380.0 64.6h.6M368.0 62.3h.6M379.7 60.7h.6M385.4 67.6h.6M376.9 70.9h.6M371.8 68.4h.6M368.9 64.9h.6M382.4 64.1h.6M377.3 68.3h.6M388.4 70.5h.6M381.2 65.1h.6M368.3 72.0h.6M390.7 58.5h.6M383.9 65.9h.6M382.8 67.1h.6M376.8 66.0h.6M377.8 70.1h.6M376.3 64.1h.6M382.5 68.3h.6M381.0 67.0h.6M388.0 69.9h.6M379.5 65.3h.6M382.5 59.5h.6M374.6 63.5h.6M379.2 64.7h.6M394.7 68.6h.6M380.8 73.9h.6M378.1 64.9h.6M386.4 68.9h.6M384.3 70.2h.6M375.6 63.7h.6M373.2 66.4h.6M384.8 62.3h.6M374.5 61.3h.6M391.5 68.8h.6M379.5 61.7h.6M371.1 63.7h.6M378.3 61.6h.6M376.5 70.3h.6M378.2 66.3h.6M364.0 65.1h.6M377.1 63.6h.6M368.7 65.8h.6M371.2 64.1h.6M367.3 65.7h.6M384.2 63.1h.6M380.2 60.7h.6M382.0 67.9h.6M375.5 69.1h.6M372.2 66.2h.6M389.4 65.9h.6M370.5 70.0h.6M381.7 65.0h.6M365.8 59.4h.6M367.8 71.2h.6M380.0 63.0h.6M385.8 71.1h.6M372.4 67.7h.6M367.0 67.3h.6M390.3 61.0h.6M378.4 63.8h.6M377.4 66.3h.6M379.9 69.1h.6M381.5 69.7h.6M384.9 69.9h.6M373.5 67.4h.6M375.6 63.0h.6M391.2 67.0h.6M378.4 58.6h.6M376.5 68.7h.6M376.7 64.1h.6M388.0 64.9h.6M375.8 65.6h.6M376.5 69.7h.6M381.9 65.8h.6M375.6 65.2h.6M389.4 64.9h.6M382.5 60.5h.6M380.2 68.4h.6M386.6 67.1h.6M381.9 67.1h.6M385.2 73.2h.6M379.4 63.1h.6M382.1 65.6h.6M382.4 68.7h.6M379.1 64.5h.6M380.1 61.6h.6M379.9 62.9h.6M381.1 66.4h.6M376.6 61.8h.6M378.4 63.6h.6M377.1 68.4h.6M384.5 61.5h.6M384.3 70.8h.6M385.6 67.0h.6M377.5 72.1h.6M375.9 60.6h.6M378.7 67.0h.6M371.1 61.7h.6M391.3 66.4h.6M383.3 64.0h.6M367.9 65.4h.6M387.1 63.7h.6M366.1 65.4h.6M376.2 66.1h.6M371.1 64.9h.6M374.4 69.1h.6M379.1 69.1h.6M377.7 58.5h.6M365.0 67.9h.6M383.9 69.1h.6M377.6 59.7h.6M374.8 67.4h.6M387.3 64.8h.6M374.3 63.3h.6M384.9 69.1h.6M365.9 70.3h.6M371.9 60.8h.6M367.4 63.4h.6M393.6 75.0h.6M369.7 63.6h.6M379.1 67.5h.6M374.9 60.4h.6M375.3 63.6h.6M366.1 66.5h.6" stroke="#6259b0" stroke-width="0.5" opacity="0.6" fill="none"/>
<path d="M378.7 55.3h.6M379.2 57.0h.6M378.8 58.7h.6M371.7 58.8h.6M378.1 57.4h.6M370.9 58.3h.6M381.4 58.8h.6M380.0 55.9h.6M374.9 58.2h.6M370.0 57.8h.6M370.4 56.7h.6M373.4 54.0h.6M385.2 57.0h.6M378.2 57.6h.6M376.3 59.0h.6M372.7 58.8h.6M370.2 58.0h.6M371.6 56.4h.6M370.7 58.9h.6M377.1 56.9h.6M371.5 58.5h.6M375.7 58.7h.6M371.2 59.0h.6M370.2 58.2h.6M385.9 57.2h.6M369.6 57.9h.6M375.4 58.5h.6M379.9 58.5h.6M373.3 58.0h.6M376.9 58.0h.6M375.5 57.0h.6M375.2 57.8h.6M376.0 58.8h.6M380.7 58.9h.6M373.4 55.7h.6M377.1 56.6h.6M372.0 56.1h.6M373.6 58.9h.6M372.0 57.2h.6M369.1 58.5h.6M371.2 58.3h.6M385.3 57.4h.6M379.1 56.2h.6M376.1 58.1h.6M370.2 58.5h.6M370.9 55.9h.6M369.7 57.8h.6M376.4 57.7h.6M377.4 56.9h.6M372.9 56.4h.6M374.2 58.7h.6M376.6 53.9h.6M372.5 56.9h.6M375.8 57.8h.6M371.0 58.4h.6M369.8 57.7h.6M374.4 57.8h.6M375.4 57.0h.6M381.0 56.2h.6M370.8 56.7h.6M369.4 56.2h.6M374.0 55.2h.6M378.6 58.2h.6M372.9 57.1h.6M388.2 57.4h.6M375.6 58.9h.6M385.9 57.5h.6M377.9 58.5h.6M373.0 55.3h.6M380.8 58.7h.6M377.6 57.6h.6M372.0 56.4h.6M374.3 57.2h.6M373.1 58.5h.6M375.8 58.7h.6M373.9 57.2h.6M377.9 57.9h.6M369.7 57.5h.6M379.4 55.2h.6M380.1 58.7h.6M376.0 57.7h.6M369.9 58.8h.6M374.1 56.9h.6M380.5 52.9h.6M376.3 55.4h.6M373.6 55.4h.6M377.2 58.9h.6M370.9 58.1h.6M369.2 58.6h.6M376.7 58.9h.6M384.6 57.6h.6M375.8 57.6h.6M378.3 56.7h.6M373.2 58.8h.6M370.5 58.5h.6M371.8 56.7h.6M372.8 59.0h.6M370.3 55.1h.6M377.3 54.7h.6M374.1 58.8h.6M374.0 55.0h.6M377.4 57.0h.6M383.3 55.1h.6M369.8 58.3h.6M373.9 58.8h.6M372.8 57.9h.6M369.9 56.1h.6M372.9 57.7h.6M383.6 57.0h.6M369.2 56.5h.6M387.8 57.5h.6M370.4 57.4h.6M372.5 56.1h.6M376.0 57.5h.6M370.3 56.3h.6M373.1 56.0h.6M371.1 58.8h.6M372.8 58.9h.6M369.1 56.7h.6M374.5 56.2h.6" stroke="#5a52aa" stroke-width="0.5" opacity="0.7" fill="none"/>
<path d="M367.6 65C367.6 60.6 371 59.6 375 59.8C381 60.2 388 62.4 390.4 65C388 67.6 381 70 375 70.4C371 70.6 367.6 69.4 367.6 65Z" fill="#33349a" filter="url(#b1)"/>
<path d="M368.6 65C368.6 61.8 371.4 61 374.6 61.2C379.6 61.6 385.6 63.2 388.4 65C385.6 66.8 379.6 68.6 374.6 69C371.4 69.2 368.6 68.2 368.6 65Z" fill="#2b86c8" filter="url(#b0)"/>
<path d="M369.4 65C369.4 62.6 371.6 62 374 62.2C377.6 62.6 381.4 63.8 383.4 65C381.4 66.2 377.6 67.6 374 67.9C371.6 68 369.4 67.4 369.4 65Z" fill="#55c865" filter="url(#b0)"/>
<ellipse cx="373.2" cy="65" rx="3.2" ry="1.9" fill="#eadf2e" filter="url(#b0)"/>
<ellipse cx="372.4" cy="65.1" rx="1.7" ry="1.05" fill="#ee4a1a" filter="url(#b0)"/>
</g>
<rect x="360.3" y="59.1" width="41.5" height="22.5" fill="none" stroke="#222" stroke-width="0.6"/>
<rect x="356.9" y="13" width="60.9" height="68.6" fill="none" stroke="#7d7d7d" stroke-width="0.7"/>
<path d="M356 14V81.6" stroke="#555" stroke-width="1.1" stroke-dasharray="0.45 0.85"/>
<path d="M356.9 82.5H416.8" stroke="#555" stroke-width="1.1" stroke-dasharray="0.45 0.85"/>
<path d="M356.6 19.5h-2" stroke="#222" stroke-width="0.7"/>
<text x="354.1" y="21.4" font-size="5" text-anchor="end">10<tspan font-size="3.2" dy="-2.1">5</tspan></text>
<path d="M356.6 36.4h-2" stroke="#222" stroke-width="0.7"/>
<text x="354.1" y="38.3" font-size="5" text-anchor="end">10<tspan font-size="3.2" dy="-2.1">4</tspan></text>
<path d="M356.6 54.6h-2" stroke="#222" stroke-width="0.7"/>
<text x="354.1" y="56.5" font-size="5" text-anchor="end">10<tspan font-size="3.2" dy="-2.1">3</tspan></text>
<path d="M356.6 66.1h-2" stroke="#222" stroke-width="0.7"/>
<text x="353.9" y="67.85" font-size="5" text-anchor="end">0</text>
<path d="M356.2 64.8v2.6" stroke="#111" stroke-width="1.3"/>
<path d="M356.6 77.4h-2" stroke="#222" stroke-width="0.7"/>
<text x="354.1" y="79.3" font-size="5" text-anchor="end">−10<tspan font-size="3.2" dy="-2.1">3</tspan></text>
<path d="M357.2 81.9v2" stroke="#222" stroke-width="0.7"/>
<text x="359.5" y="88.6" font-size="5" text-anchor="end" transform="rotate(-45 359.5 88.6)">0</text>
<path d="M368.92 81.9v2" stroke="#222" stroke-width="0.7"/>
<text x="371.22" y="88.6" font-size="5" text-anchor="end" transform="rotate(-45 371.22 88.6)">50K</text>
<path d="M380.64 81.9v2" stroke="#222" stroke-width="0.7"/>
<text x="382.94" y="88.6" font-size="5" text-anchor="end" transform="rotate(-45 382.94 88.6)">100K</text>
<path d="M392.36 81.9v2" stroke="#222" stroke-width="0.7"/>
<text x="394.66" y="88.6" font-size="5" text-anchor="end" transform="rotate(-45 394.66 88.6)">150K</text>
<path d="M404.08 81.9v2" stroke="#222" stroke-width="0.7"/>
<text x="406.38" y="88.6" font-size="5" text-anchor="end" transform="rotate(-45 406.38 88.6)">200K</text>
<path d="M415.8 81.9v2" stroke="#222" stroke-width="0.7"/>
<text x="418.1" y="88.6" font-size="5" text-anchor="end" transform="rotate(-45 418.1 88.6)">250K</text>
<text x="386.55" y="105.6" font-size="7.6" text-anchor="middle" textLength="15.5" lengthAdjust="spacingAndGlyphs" class="c">FSC-A</text>
<text class="c" x="0" y="0" font-size="7.6" text-anchor="middle" textLength="4.95" lengthAdjust="spacingAndGlyphs" transform="translate(339 48.6) rotate(-90)">PI</text>
<path d="M412.6 72.8L433.2 72.8" stroke="#000" stroke-width="0.9"/>
<path d="M436.8 72.8L432 75.1L432.9 72.8L432 70.5Z" fill="#000"/>
<clipPath id="c4"><rect x="451.4" y="13" width="61.4" height="68.4"/></clipPath>
<g clip-path="url(#c4)">
<path d="M462.6 49.6L461.8 42L467.6 26L479 20.4L485 23.4L486.6 30.6L484.6 35.4Z" fill="#6058b2" opacity="0.8" filter="url(#b1)"/>
<path d="M462.6 52.4C466 50.8 474 50.4 479.6 52C484 53.4 484.6 60 482.4 63.4C479 67.4 468 67.6 464 65.6C461.6 63.6 461.4 55 462.6 52.4Z" fill="#6058b2" opacity="0.75" filter="url(#b1)"/>
<path d="M479.2 18.2h.6M466.5 45.0h.6M487.0 27.8h.6M482.2 26.5h.6M479.1 25.0h.6M466.8 47.5h.6M470.1 38.8h.6M478.1 30.8h.6M475.8 27.5h.6M461.0 51.6h.6M470.3 43.5h.6M461.6 56.7h.6M474.1 33.1h.6M460.6 57.3h.6M470.1 37.3h.6M467.8 56.3h.6M470.7 38.5h.6M475.6 28.2h.6M482.0 24.0h.6M461.0 51.4h.6M476.5 35.4h.6M472.2 34.0h.6M473.1 44.2h.6M477.5 30.1h.6M467.2 34.9h.6M466.7 33.3h.6M462.7 47.3h.6M477.2 32.1h.6M469.5 30.2h.6M463.2 42.6h.6M481.0 21.6h.6M467.9 44.4h.6M470.2 33.3h.6M460.9 54.1h.6M464.3 50.4h.6M474.4 31.9h.6M488.6 17.8h.6M472.8 36.1h.6M471.1 50.9h.6M478.6 21.6h.6M477.9 27.2h.6M481.6 28.9h.6M476.6 35.4h.6M467.8 40.0h.6M482.4 20.0h.6M477.1 33.0h.6M474.1 31.9h.6M474.6 33.1h.6M468.7 42.9h.6M474.8 27.1h.6M478.3 31.9h.6M470.8 42.3h.6M470.0 50.7h.6M473.6 37.9h.6M470.4 38.6h.6M464.6 50.6h.6M478.7 32.5h.6M474.6 33.1h.6M485.9 9.9h.6M480.0 33.2h.6M477.5 24.3h.6M479.8 28.9h.6M472.6 34.8h.6M472.4 31.0h.6M473.6 34.5h.6M453.0 61.9h.6M473.9 45.5h.6M474.5 47.6h.6M470.0 41.4h.6M484.7 23.2h.6M474.4 25.5h.6M483.0 27.7h.6M465.5 46.6h.6M464.4 44.5h.6M480.1 25.7h.6M476.3 35.2h.6M474.2 30.6h.6M478.5 20.5h.6M471.4 41.6h.6M462.1 47.9h.6M472.3 28.8h.6M474.1 28.9h.6M473.5 39.1h.6M474.5 31.8h.6M480.1 20.4h.6M473.2 32.2h.6M480.8 26.7h.6M475.8 34.1h.6M481.9 21.6h.6M463.7 49.4h.6M475.3 25.1h.6M466.4 41.0h.6M472.3 32.9h.6M471.7 23.3h.6M475.3 31.7h.6M465.4 40.9h.6M470.8 34.6h.6M469.8 38.8h.6M454.8 52.2h.6M477.0 32.4h.6M463.2 47.1h.6M473.3 40.3h.6M466.6 35.5h.6M475.9 31.3h.6M468.1 57.7h.6M480.4 22.6h.6M468.9 40.3h.6M460.5 54.3h.6M476.6 37.1h.6M463.6 46.2h.6M474.0 32.6h.6M480.4 31.0h.6M473.8 38.1h.6M468.4 37.7h.6M473.2 39.2h.6M464.1 41.6h.6M460.8 60.5h.6M472.1 32.2h.6M479.3 20.9h.6M471.0 33.8h.6M462.3 53.1h.6M480.1 26.4h.6M476.3 31.4h.6M481.7 25.0h.6M475.2 35.5h.6M469.0 39.7h.6M481.3 25.1h.6M475.1 41.1h.6M487.2 18.1h.6M469.9 40.5h.6M479.2 34.2h.6M465.8 43.1h.6M466.4 41.7h.6M464.0 46.9h.6M474.8 34.5h.6M459.7 56.9h.6M471.9 36.5h.6M482.2 27.7h.6M476.0 38.0h.6M469.1 39.6h.6M465.3 43.2h.6M476.4 32.5h.6M478.1 23.6h.6M466.6 43.8h.6M463.1 57.2h.6M478.4 37.0h.6M475.0 43.1h.6M470.8 31.1h.6M467.2 37.7h.6M476.8 28.9h.6M479.4 20.7h.6M477.2 37.1h.6M472.5 38.9h.6M473.0 29.5h.6M465.6 56.8h.6M466.4 39.6h.6M466.2 47.9h.6M464.3 53.5h.6M465.9 51.5h.6M472.9 34.6h.6M474.6 28.9h.6M460.3 43.7h.6M478.9 31.1h.6M480.1 26.5h.6M477.1 28.8h.6M471.7 37.8h.6M469.3 42.4h.6M476.3 36.6h.6M479.4 33.7h.6M482.7 22.3h.6M489.1 20.8h.6M477.5 26.0h.6M474.8 30.7h.6M467.1 48.9h.6M469.3 46.1h.6M469.4 42.7h.6M476.0 36.7h.6M466.8 45.4h.6M468.6 41.0h.6M474.8 38.3h.6M465.2 54.2h.6M476.2 32.3h.6M471.3 31.7h.6M475.5 24.6h.6M459.4 56.3h.6M469.7 34.0h.6M472.4 34.4h.6M465.9 49.4h.6M481.1 31.2h.6M471.3 31.2h.6M469.9 37.7h.6M473.9 23.8h.6M475.5 34.7h.6M473.1 29.5h.6M471.5 26.5h.6M471.9 51.5h.6M471.3 39.5h.6M477.7 32.6h.6M475.9 29.6h.6M471.2 42.3h.6M468.6 43.5h.6M470.0 37.0h.6M477.7 29.1h.6M469.8 36.4h.6M469.9 49.7h.6M462.8 48.0h.6M484.8 16.3h.6M473.0 37.0h.6M482.2 28.6h.6M481.1 21.1h.6M483.3 6.6h.6M462.4 51.0h.6M472.8 26.5h.6M468.3 42.2h.6M472.9 37.0h.6M473.0 34.5h.6M471.0 37.7h.6M469.7 33.6h.6M479.9 27.7h.6M472.8 42.2h.6M473.7 29.9h.6M479.0 27.6h.6M467.9 44.8h.6M478.3 39.1h.6M470.1 40.9h.6M479.0 37.7h.6M471.8 34.7h.6M474.0 36.1h.6M470.1 41.9h.6M457.6 58.4h.6M482.1 32.2h.6M482.7 23.3h.6M478.8 23.3h.6M473.2 41.1h.6M471.4 45.4h.6M467.2 50.8h.6M475.4 28.6h.6M480.1 26.5h.6M468.4 32.7h.6M475.1 40.7h.6M474.6 40.2h.6M471.3 48.0h.6M467.9 38.4h.6M461.1 59.9h.6M472.8 35.6h.6M474.8 38.3h.6M483.2 19.7h.6M464.8 44.1h.6M472.5 34.5h.6M469.8 38.6h.6M477.8 36.3h.6M473.4 30.2h.6M471.9 32.0h.6M471.3 39.2h.6M484.0 30.0h.6M475.6 30.7h.6M476.3 33.2h.6M463.5 45.7h.6M471.5 33.1h.6M480.0 25.7h.6M476.8 23.5h.6M468.4 42.2h.6M469.2 35.9h.6M463.7 51.8h.6M476.1 31.9h.6M468.8 43.5h.6M469.0 45.7h.6M472.4 41.5h.6M471.3 32.8h.6M476.0 28.2h.6M472.6 41.6h.6M479.0 23.3h.6M479.1 26.4h.6M469.1 40.6h.6M472.9 39.7h.6M473.4 36.8h.6M466.2 41.2h.6M479.5 27.6h.6M477.6 33.7h.6M468.8 39.8h.6M474.1 34.5h.6M470.3 45.3h.6M463.4 36.3h.6M478.8 35.5h.6M473.8 40.8h.6M476.2 35.7h.6M464.5 38.6h.6M475.4 31.7h.6M469.0 36.6h.6M474.8 40.1h.6M464.7 52.9h.6M467.8 44.7h.6M470.5 49.6h.6M479.4 33.5h.6M475.8 34.0h.6M476.6 38.3h.6M471.2 39.3h.6M473.6 38.7h.6M472.2 42.8h.6M468.5 35.6h.6M476.2 29.6h.6M477.9 26.2h.6M479.2 30.1h.6M465.2 46.2h.6M482.0 23.7h.6M466.1 42.2h.6M476.8 34.0h.6M476.9 29.0h.6M478.6 27.5h.6M470.8 36.2h.6M474.8 29.5h.6M468.4 39.4h.6M476.4 32.9h.6M469.6 41.9h.6M478.9 26.2h.6M466.4 43.5h.6M473.5 28.3h.6M470.3 37.1h.6M475.1 46.8h.6M468.3 43.3h.6M468.8 54.4h.6M466.0 43.7h.6M485.8 21.5h.6M462.2 46.1h.6M479.2 27.5h.6M478.2 28.0h.6M476.0 29.3h.6M475.9 31.6h.6M472.7 37.4h.6M474.5 34.7h.6M474.1 37.4h.6M469.4 34.4h.6M475.8 31.5h.6M475.4 34.1h.6M483.9 20.4h.6M484.2 17.2h.6M481.0 27.7h.6M465.2 42.6h.6M473.1 28.9h.6M476.6 28.4h.6M464.0 42.3h.6M468.8 39.5h.6M480.4 27.4h.6M467.5 45.1h.6M471.0 33.7h.6M469.6 39.8h.6M481.3 23.8h.6M470.7 36.1h.6M466.7 32.8h.6M477.3 26.3h.6M471.3 38.8h.6M472.0 38.7h.6M481.4 28.1h.6M480.7 31.8h.6M468.4 37.1h.6M473.7 33.0h.6M468.5 43.0h.6M466.5 36.6h.6M469.2 46.7h.6M474.5 26.9h.6M467.6 47.0h.6M475.8 45.3h.6M468.0 37.7h.6M475.1 39.4h.6M468.6 44.0h.6M471.8 41.0h.6M477.1 39.2h.6M481.5 26.0h.6M470.2 44.8h.6M464.1 51.7h.6M479.6 26.7h.6M475.7 43.2h.6M469.8 37.1h.6M470.8 37.1h.6M474.0 31.0h.6M470.1 38.4h.6M471.1 42.0h.6M462.8 45.5h.6M475.1 40.8h.6M468.8 35.2h.6M473.5 35.9h.6M473.7 26.6h.6M464.3 45.2h.6M473.7 34.8h.6M482.9 18.2h.6M472.4 35.8h.6M482.8 32.8h.6M468.4 31.0h.6M474.6 28.4h.6M478.6 24.9h.6M461.5 40.1h.6M467.2 41.4h.6M467.3 51.5h.6M464.0 43.1h.6M481.3 29.4h.6M472.3 35.6h.6M470.3 32.4h.6M474.2 44.5h.6M469.4 40.0h.6M479.7 24.0h.6M477.9 28.1h.6M470.0 36.4h.6M471.9 45.4h.6M477.9 24.9h.6M470.8 41.7h.6M476.4 35.0h.6M480.2 30.3h.6M468.5 35.6h.6M470.1 44.7h.6M464.9 42.2h.6M478.3 29.0h.6M475.6 30.0h.6M479.1 38.8h.6M470.5 37.0h.6M476.7 36.1h.6M476.4 31.8h.6M476.9 38.0h.6M480.3 30.8h.6M476.5 27.9h.6M463.2 52.7h.6" stroke="#5048a6" stroke-width="0.55" opacity="0.75" fill="none"/>
<path d="M478.9 63.9h.6M467.5 57.8h.6M472.0 55.8h.6M468.1 56.0h.6M479.6 65.1h.6M477.3 66.6h.6M473.5 54.1h.6M469.1 59.9h.6M478.9 64.5h.6M467.7 63.3h.6M469.8 61.7h.6M478.3 65.7h.6M469.8 60.1h.6M475.4 57.1h.6M473.5 61.7h.6M463.3 56.1h.6M486.4 61.0h.6M469.7 50.7h.6M467.3 61.3h.6M476.9 61.0h.6M476.4 56.3h.6M482.2 53.9h.6M475.9 57.8h.6M462.9 63.1h.6M471.3 62.2h.6M480.3 59.7h.6M469.1 58.0h.6M472.5 65.5h.6M477.9 66.1h.6M477.4 55.5h.6M478.3 63.4h.6M472.2 61.1h.6M471.1 53.3h.6M472.4 62.4h.6M470.8 48.9h.6M468.3 63.9h.6M474.2 64.1h.6M468.5 57.1h.6M467.1 55.5h.6M475.9 59.6h.6M470.1 60.3h.6M465.3 57.2h.6M464.2 52.2h.6M465.0 54.0h.6M482.1 65.2h.6M480.3 56.4h.6M476.6 53.9h.6M469.7 60.1h.6M463.6 59.9h.6M476.5 49.6h.6M458.6 57.7h.6M472.2 59.6h.6M466.3 61.6h.6M473.6 55.7h.6M482.5 60.2h.6M477.2 67.4h.6M470.0 58.0h.6M462.8 58.0h.6M475.5 70.3h.6M476.2 59.9h.6M465.5 55.1h.6M462.1 52.8h.6M473.6 60.3h.6M467.6 58.0h.6M468.2 61.8h.6M476.6 56.5h.6M470.2 53.4h.6M470.2 68.9h.6M472.8 62.9h.6M476.3 65.7h.6M471.0 54.9h.6M479.0 63.2h.6M469.0 64.0h.6M472.8 58.8h.6M483.6 61.4h.6M474.7 57.5h.6M474.1 63.8h.6M475.6 55.6h.6M475.5 58.5h.6M474.7 58.1h.6M460.1 51.7h.6M470.7 49.0h.6M464.1 68.2h.6M477.0 56.9h.6M474.8 48.8h.6M474.4 63.5h.6M474.0 53.0h.6M478.6 56.6h.6M469.6 59.9h.6M471.1 68.3h.6M472.1 68.8h.6M475.5 53.3h.6M472.9 59.2h.6M481.3 64.8h.6M487.9 56.0h.6M470.3 69.6h.6M467.7 60.6h.6M482.3 54.4h.6M470.9 55.6h.6M476.0 60.8h.6M472.7 62.0h.6M468.3 57.3h.6M475.6 68.2h.6M472.7 59.3h.6M480.6 59.3h.6M480.5 60.1h.6M479.7 59.8h.6M467.5 55.1h.6M475.4 67.6h.6M483.8 57.5h.6M487.6 53.9h.6M467.9 63.3h.6M464.0 63.2h.6M475.1 61.9h.6M465.8 60.7h.6M478.4 58.8h.6M478.9 59.1h.6M474.9 57.6h.6M464.9 58.3h.6M475.8 55.5h.6M461.4 51.9h.6M480.6 58.0h.6M468.4 64.7h.6M471.9 52.1h.6M470.3 55.0h.6M471.8 54.8h.6M473.3 61.1h.6M469.5 58.1h.6M472.0 62.8h.6M468.7 62.4h.6M480.2 58.1h.6M467.2 57.6h.6M462.5 56.5h.6M465.9 58.2h.6M470.7 61.4h.6M473.6 60.9h.6M472.6 60.3h.6M466.2 62.0h.6M480.6 64.1h.6M465.0 60.9h.6M463.3 62.5h.6M471.7 56.9h.6M468.5 57.9h.6M472.9 54.6h.6M473.3 60.2h.6M476.0 58.8h.6M472.9 69.6h.6M478.9 60.5h.6M464.7 61.8h.6M476.3 46.8h.6M471.9 60.8h.6M473.1 59.4h.6M472.0 65.4h.6M475.2 57.7h.6M471.6 68.6h.6M467.8 56.6h.6M474.8 59.7h.6M474.7 65.2h.6M479.6 60.9h.6M473.2 58.7h.6M471.6 63.6h.6M465.5 54.2h.6M470.2 54.6h.6M468.6 64.5h.6M459.6 61.7h.6M465.2 57.9h.6M469.5 54.4h.6M464.2 59.3h.6M455.4 49.3h.6M470.6 64.1h.6M483.9 57.7h.6M468.2 57.7h.6M475.7 63.3h.6M467.3 61.2h.6M472.7 64.3h.6M470.5 58.0h.6M467.9 52.9h.6M474.5 62.3h.6M479.6 60.2h.6M470.2 54.8h.6M466.1 55.7h.6M474.9 59.4h.6M459.4 58.5h.6M471.2 54.2h.6M472.8 61.4h.6M466.8 52.8h.6M471.0 60.2h.6M471.4 66.1h.6M473.8 54.4h.6M477.5 56.0h.6M477.0 59.5h.6M480.2 54.4h.6M477.2 61.0h.6M467.6 62.2h.6M486.4 60.6h.6M468.4 58.3h.6M480.7 60.2h.6M481.7 56.0h.6M480.7 51.7h.6M472.0 57.6h.6M470.0 64.6h.6M469.4 60.6h.6M484.0 62.8h.6M470.5 55.6h.6M461.0 60.7h.6M478.2 64.1h.6M474.4 68.9h.6M477.5 48.4h.6M467.7 62.7h.6M470.6 62.9h.6M488.2 55.5h.6M486.1 58.6h.6M464.2 59.4h.6M478.3 56.3h.6M482.4 55.0h.6M471.8 63.2h.6M471.7 56.4h.6M472.9 62.0h.6M483.3 65.3h.6M484.1 58.9h.6M463.1 58.8h.6M470.5 54.4h.6M469.9 58.7h.6M473.3 63.2h.6M467.5 64.3h.6M473.2 62.4h.6M480.4 53.3h.6M482.5 55.7h.6M475.3 64.0h.6M478.5 51.8h.6M473.9 64.2h.6M472.2 58.6h.6M473.4 66.6h.6M469.7 54.7h.6M466.4 56.6h.6M471.6 60.6h.6M472.5 51.1h.6M463.6 62.1h.6M477.3 52.8h.6M478.6 47.8h.6M486.9 61.7h.6M463.1 61.4h.6M472.8 56.9h.6M470.8 58.0h.6M472.4 54.8h.6M469.6 61.6h.6M476.1 52.9h.6M470.0 66.2h.6M477.3 66.6h.6M464.9 54.2h.6M460.0 50.1h.6M470.7 54.2h.6M466.5 55.8h.6M471.9 62.8h.6M476.3 50.9h.6M481.9 57.5h.6M467.0 58.9h.6M470.6 52.6h.6M482.3 56.3h.6M469.4 61.5h.6M483.0 61.2h.6M467.6 61.0h.6M479.6 60.8h.6M476.9 56.8h.6M472.6 51.2h.6M468.7 53.8h.6M473.0 65.9h.6M459.5 52.9h.6M467.4 58.6h.6M480.0 55.4h.6M468.3 64.6h.6M475.2 61.4h.6M478.0 55.6h.6M474.3 56.0h.6M468.7 59.6h.6M475.6 53.1h.6M468.4 61.8h.6M474.0 62.1h.6M471.1 55.3h.6M477.7 61.8h.6M455.9 63.0h.6M468.4 62.1h.6M482.4 57.7h.6M467.2 60.2h.6M473.5 61.6h.6M464.5 60.1h.6M478.4 62.2h.6M476.8 64.5h.6M468.0 64.6h.6M474.3 54.4h.6M471.2 60.3h.6M475.0 65.2h.6M474.1 56.6h.6M486.1 57.5h.6M468.0 63.3h.6M470.5 55.4h.6M466.6 64.5h.6M466.6 59.5h.6M470.2 58.1h.6M468.1 59.7h.6M476.6 63.9h.6M470.8 53.6h.6M464.1 59.0h.6M458.0 65.2h.6M473.2 59.6h.6M464.6 56.0h.6M468.5 62.1h.6M470.5 61.9h.6M476.1 50.1h.6M471.6 64.8h.6M469.9 59.6h.6M472.2 53.4h.6M486.1 58.4h.6M476.8 57.0h.6M481.4 64.3h.6M480.1 63.4h.6M477.2 65.4h.6M475.4 59.7h.6M477.9 54.9h.6M457.7 62.8h.6M473.9 55.8h.6M471.4 54.6h.6M467.9 59.9h.6M473.7 62.9h.6M472.4 61.9h.6M477.1 55.8h.6M462.8 55.9h.6M471.5 56.6h.6M486.3 55.9h.6M475.9 55.5h.6M477.2 53.2h.6M478.7 59.9h.6M470.6 53.5h.6M483.0 56.4h.6M481.7 48.0h.6M465.8 67.4h.6M483.7 59.1h.6M479.0 61.8h.6M470.8 59.6h.6M466.1 52.9h.6M473.7 62.4h.6M474.0 53.4h.6M478.1 59.5h.6M477.5 57.7h.6M471.4 63.9h.6M481.3 53.5h.6M466.3 63.5h.6M475.2 59.3h.6M467.1 63.7h.6M474.1 60.1h.6M475.3 56.6h.6M475.4 59.7h.6M477.3 60.8h.6M465.3 55.8h.6M471.4 64.4h.6M469.1 64.3h.6M479.5 63.1h.6M486.6 59.0h.6M474.9 64.7h.6M475.4 63.6h.6" stroke="#5048a6" stroke-width="0.55" opacity="0.75" fill="none"/>
<path d="M472.2 50.7h.6M480.2 51.9h.6M483.5 49.7h.6M476.6 49.7h.6M472.6 50.4h.6M482.0 47.2h.6M479.7 49.3h.6M477.2 49.3h.6M479.5 50.2h.6M472.9 50.3h.6M468.1 50.6h.6M481.2 47.6h.6M474.3 50.8h.6M468.6 50.7h.6M471.1 51.1h.6M474.9 50.6h.6M476.8 48.6h.6M476.0 51.2h.6M480.5 51.4h.6M478.1 48.5h.6M474.5 50.4h.6M468.6 50.6h.6M469.6 50.6h.6M472.0 49.8h.6M483.2 50.8h.6M479.7 50.7h.6M476.8 51.7h.6M469.0 50.5h.6M471.5 50.6h.6M474.1 51.5h.6M471.6 50.1h.6M482.6 51.4h.6M474.8 50.0h.6M478.9 48.5h.6M479.0 48.9h.6M479.7 47.9h.6M482.2 52.3h.6M468.4 50.5h.6M482.4 52.0h.6M472.6 51.0h.6M476.9 49.3h.6M478.9 49.8h.6M470.2 50.9h.6M479.0 48.9h.6M474.8 50.9h.6M473.7 49.8h.6M476.0 51.9h.6M469.5 50.4h.6M475.3 51.9h.6M482.0 46.8h.6M477.5 48.7h.6M471.1 50.0h.6M475.5 52.0h.6M483.2 49.2h.6M482.3 51.2h.6M469.1 50.8h.6M472.1 51.3h.6M470.0 50.9h.6M476.2 50.3h.6M470.9 50.5h.6M480.1 50.4h.6M483.7 50.2h.6M481.4 47.9h.6M479.8 50.7h.6M481.8 49.1h.6M475.3 51.3h.6M472.0 50.2h.6M481.5 50.9h.6M474.9 48.8h.6M480.1 49.7h.6M471.7 50.3h.6M470.1 50.8h.6M480.1 52.6h.6M478.1 48.7h.6M474.4 51.7h.6M468.0 50.6h.6M470.2 50.2h.6M472.4 50.7h.6M469.0 50.7h.6M474.5 49.4h.6M469.6 50.6h.6M473.6 50.4h.6M469.7 50.4h.6M475.4 48.9h.6M475.8 51.5h.6M476.7 48.8h.6M477.2 48.5h.6M470.0 50.1h.6M476.0 49.1h.6M472.1 49.7h.6" stroke="#6a62b8" stroke-width="0.5" opacity="0.7" fill="none"/>
<ellipse cx="470.4" cy="35.2" rx="4.6" ry="12.4" fill="#2e3a9c" transform="rotate(31 470.4 35.2)" filter="url(#b1)"/>
<ellipse cx="469.4" cy="36.4" rx="3.5" ry="10.4" fill="#2c8ccc" transform="rotate(30 469.4 36.4)" filter="url(#b1)"/>
<ellipse cx="468.4" cy="38" rx="2.5" ry="6.6" fill="#52c864" transform="rotate(27 468.4 38)" filter="url(#b0)"/>
<ellipse cx="467.4" cy="39.4" rx="1.9" ry="3.6" fill="#eee02c" transform="rotate(22 467.4 39.4)" filter="url(#b0)"/>
<ellipse cx="467" cy="39.8" rx="1.15" ry="2.1" fill="#ee3a1a" transform="rotate(22 467 39.8)" filter="url(#b0)"/>
<ellipse cx="469.4" cy="60" rx="6.6" ry="4.6" fill="#3256b0" filter="url(#b1)"/>
<ellipse cx="467.6" cy="60.6" rx="4.2" ry="3.6" fill="#30a2c0" filter="url(#b1)"/>
<ellipse cx="466" cy="60.8" rx="2.5" ry="2.7" fill="#5cc85a" filter="url(#b0)"/>
<path d="M461.9 50.3L461.2 41.3L467.5 24.4L479.4 19L485.6 22.5L487.5 30.6L485.6 35.6Z" fill="none" stroke="#222" stroke-width="0.6" stroke-linejoin="round"/>
</g>
<text x="497.8" y="21.6" font-size="6.4" text-anchor="middle">81.2%</text>
<rect x="451.4" y="13" width="61.4" height="68.4" fill="none" stroke="#7d7d7d" stroke-width="0.7"/>
<path d="M450.5 14V81.4" stroke="#555" stroke-width="1.1" stroke-dasharray="0.45 0.85"/>
<path d="M451.4 82.3H511.8" stroke="#555" stroke-width="1.1" stroke-dasharray="0.45 0.85"/>
<path d="M451.1 19.5h-2" stroke="#222" stroke-width="0.7"/>
<text x="448.6" y="21.4" font-size="5" text-anchor="end">10<tspan font-size="3.2" dy="-2.1">5</tspan></text>
<path d="M451.1 36.4h-2" stroke="#222" stroke-width="0.7"/>
<text x="448.6" y="38.3" font-size="5" text-anchor="end">10<tspan font-size="3.2" dy="-2.1">4</tspan></text>
<path d="M451.1 54.6h-2" stroke="#222" stroke-width="0.7"/>
<text x="448.6" y="56.5" font-size="5" text-anchor="end">10<tspan font-size="3.2" dy="-2.1">3</tspan></text>
<path d="M451.1 66.1h-2" stroke="#222" stroke-width="0.7"/>
<text x="448.4" y="67.85" font-size="5" text-anchor="end">0</text>
<path d="M450.7 64.8v2.6" stroke="#111" stroke-width="1.3"/>
<path d="M451.1 77.4h-2" stroke="#222" stroke-width="0.7"/>
<text x="448.6" y="79.3" font-size="5" text-anchor="end">−10<tspan font-size="3.2" dy="-2.1">3</tspan></text>
<path d="M451.7 81.7v2" stroke="#222" stroke-width="0.7"/>
<text x="454" y="88.4" font-size="5" text-anchor="end" transform="rotate(-45 454 88.4)">0</text>
<path d="M463.42 81.7v2" stroke="#222" stroke-width="0.7"/>
<text x="465.72" y="88.4" font-size="5" text-anchor="end" transform="rotate(-45 465.72 88.4)">50K</text>
<path d="M475.14 81.7v2" stroke="#222" stroke-width="0.7"/>
<text x="477.44" y="88.4" font-size="5" text-anchor="end" transform="rotate(-45 477.44 88.4)">100K</text>
<path d="M486.86 81.7v2" stroke="#222" stroke-width="0.7"/>
<text x="489.16" y="88.4" font-size="5" text-anchor="end" transform="rotate(-45 489.16 88.4)">150K</text>
<path d="M498.58 81.7v2" stroke="#222" stroke-width="0.7"/>
<text x="500.88" y="88.4" font-size="5" text-anchor="end" transform="rotate(-45 500.88 88.4)">200K</text>
<path d="M510.3 81.7v2" stroke="#222" stroke-width="0.7"/>
<text x="512.6" y="88.4" font-size="5" text-anchor="end" transform="rotate(-45 512.6 88.4)">250K</text>
<text x="481.3" y="105.6" font-size="7.6" text-anchor="middle" textLength="15.5" lengthAdjust="spacingAndGlyphs" class="c">FSC-A</text>
<text class="c" x="0" y="0" font-size="7.6" text-anchor="middle" textLength="20.69" lengthAdjust="spacingAndGlyphs" transform="translate(432.9 48.5) rotate(-90)">CX3CR1</text>
<path d="M503.4 78.8L503.4 104" stroke="#000" stroke-width="0.9"/>
<path d="M503.4 107.6L501.1 102.8L503.4 103.7L505.7 102.8Z" fill="#000"/>
<clipPath id="c5"><rect x="451.4" y="112.6" width="61.4" height="68.8"/></clipPath>
<g clip-path="url(#c5)">
<ellipse cx="471" cy="134" rx="5" ry="10" fill="#6860b4" opacity="0.42" transform="rotate(24 471 134)" filter="url(#b2)"/>
<path d="M471.1 128.2h.6M462.8 145.8h.6M472.7 139.3h.6M469.3 134.5h.6M469.2 132.8h.6M470.9 129.9h.6M474.7 131.3h.6M465.5 134.0h.6M461.2 149.8h.6M470.1 135.1h.6M474.8 128.7h.6M468.5 137.0h.6M476.4 132.8h.6M472.4 132.8h.6M465.3 138.2h.6M473.6 132.0h.6M471.9 122.1h.6M466.0 139.6h.6M471.6 131.2h.6M464.0 147.8h.6M467.7 145.5h.6M469.9 139.7h.6M468.6 137.0h.6M470.0 141.7h.6M478.9 129.3h.6M470.7 133.7h.6M480.6 133.0h.6M472.8 133.6h.6M470.1 123.6h.6M468.6 132.4h.6M472.2 134.9h.6M462.9 142.9h.6M472.9 127.0h.6M467.6 148.8h.6M462.1 140.3h.6M479.2 120.2h.6M464.0 134.9h.6M469.4 144.1h.6M476.5 121.7h.6M471.8 139.5h.6M477.1 130.6h.6M474.6 128.2h.6M467.7 138.5h.6M468.8 133.9h.6M472.5 128.1h.6M473.9 133.5h.6M472.4 130.5h.6M471.1 131.7h.6M471.4 125.9h.6M471.1 131.0h.6M471.7 136.7h.6M474.0 135.1h.6M474.8 135.6h.6M465.6 141.9h.6M468.2 124.9h.6M472.3 136.2h.6M472.8 127.7h.6M479.0 127.7h.6M468.9 140.6h.6M473.7 125.7h.6M479.2 129.5h.6M474.6 134.6h.6M478.6 124.4h.6M470.4 139.7h.6M470.5 134.2h.6M470.5 130.7h.6M468.5 134.1h.6M466.5 147.4h.6M471.3 137.3h.6M474.5 125.2h.6M475.1 133.6h.6M472.8 120.8h.6M473.2 132.9h.6M473.4 118.3h.6M469.6 132.0h.6M468.5 137.9h.6M475.4 135.7h.6M472.9 124.9h.6M466.9 139.0h.6M468.2 127.6h.6M463.4 136.3h.6M468.6 139.5h.6M468.8 137.9h.6M474.1 133.6h.6M473.3 137.5h.6M473.0 134.3h.6M475.6 131.4h.6M472.1 134.2h.6M471.5 135.1h.6M466.3 144.9h.6M477.1 119.2h.6M471.6 125.6h.6M471.4 140.0h.6M474.4 126.8h.6M474.7 132.3h.6M471.8 126.6h.6M474.9 129.8h.6M464.4 135.7h.6M467.4 145.0h.6M471.0 138.8h.6M468.1 143.7h.6M464.3 140.2h.6M471.2 130.9h.6M472.1 132.7h.6M473.8 127.1h.6M465.9 140.4h.6M471.2 123.9h.6M479.9 119.0h.6M468.2 142.4h.6M469.1 143.9h.6M472.1 136.2h.6M466.6 137.7h.6M477.7 126.5h.6M465.1 142.5h.6M465.5 147.1h.6M466.0 140.7h.6M477.7 125.1h.6M467.5 136.7h.6M463.6 140.8h.6M469.9 138.0h.6M471.3 140.0h.6M469.0 136.1h.6M471.5 130.2h.6M468.7 140.2h.6M468.1 134.0h.6M469.1 140.3h.6M467.7 137.2h.6M472.4 133.6h.6M466.3 133.3h.6M465.3 142.2h.6M472.0 124.5h.6M465.7 139.8h.6M469.4 147.1h.6M473.2 130.5h.6M472.5 133.8h.6M469.6 137.5h.6M470.3 130.7h.6M467.8 147.8h.6M464.5 135.1h.6M474.6 133.8h.6M472.8 126.0h.6M479.3 114.8h.6M469.3 142.4h.6M471.1 137.3h.6M472.6 133.2h.6M475.4 130.0h.6M469.8 128.4h.6M467.6 125.2h.6M470.4 130.5h.6M466.2 130.5h.6M471.4 135.9h.6M465.9 142.3h.6M466.1 140.0h.6M469.6 150.5h.6M472.2 133.2h.6M474.0 124.8h.6M469.5 138.7h.6M468.6 136.5h.6M472.3 134.2h.6M472.2 138.1h.6M473.7 123.7h.6M474.4 137.8h.6M467.6 139.5h.6M476.1 125.0h.6M474.2 126.7h.6M471.0 122.1h.6M473.4 134.2h.6M472.7 134.3h.6M475.2 133.5h.6M471.5 130.0h.6M472.3 136.7h.6M474.0 135.0h.6M471.3 126.0h.6M471.3 129.3h.6M472.9 132.0h.6M471.7 132.0h.6M468.2 131.7h.6M465.9 134.7h.6M468.4 132.9h.6M470.7 128.9h.6M471.6 137.9h.6M470.8 123.0h.6M470.2 132.4h.6M476.9 125.6h.6M472.5 119.3h.6M478.2 120.4h.6M468.3 135.9h.6M474.1 131.5h.6M471.3 122.8h.6M477.9 119.3h.6M478.6 140.0h.6M464.7 137.0h.6M467.2 127.8h.6M465.8 129.8h.6M462.8 145.3h.6M477.1 124.5h.6M467.3 125.7h.6M471.2 126.9h.6M465.1 153.4h.6M462.4 150.7h.6M463.9 146.1h.6M473.7 133.3h.6M470.4 135.7h.6M467.7 128.4h.6M471.1 131.2h.6M466.8 139.7h.6M471.3 138.0h.6M467.5 135.4h.6M473.3 129.9h.6M467.3 144.2h.6M472.0 135.5h.6M472.1 120.3h.6M468.6 135.6h.6M471.2 136.1h.6M469.1 136.7h.6M474.1 117.0h.6M471.9 136.4h.6M466.3 127.7h.6M469.6 141.5h.6M473.0 135.1h.6M464.9 138.3h.6M477.6 122.5h.6M470.0 145.6h.6M472.1 138.2h.6M472.3 128.2h.6M471.0 140.1h.6M472.2 126.0h.6M481.5 119.7h.6M471.8 141.6h.6M473.3 134.9h.6M476.6 126.7h.6M469.9 130.2h.6M471.1 126.6h.6M479.1 128.1h.6M475.0 129.4h.6M471.1 138.2h.6M477.1 122.4h.6M466.8 154.3h.6M469.6 141.8h.6M474.8 124.2h.6M476.2 132.2h.6M474.2 129.3h.6M467.7 142.1h.6M469.9 135.6h.6M468.7 133.0h.6M474.8 114.9h.6M468.2 133.6h.6M468.5 153.2h.6M471.3 132.4h.6M467.2 146.4h.6M468.9 127.4h.6M473.4 135.4h.6M472.9 125.4h.6M463.7 143.1h.6M463.8 141.1h.6M473.0 142.4h.6M462.7 148.3h.6M475.8 126.3h.6M474.6 125.1h.6M475.6 127.8h.6M466.9 137.7h.6M474.4 130.7h.6M465.0 134.4h.6M466.5 141.6h.6M481.0 129.8h.6M466.1 136.5h.6M472.8 128.8h.6M475.1 126.3h.6M469.4 140.2h.6M469.9 135.1h.6M468.5 142.9h.6M467.8 133.7h.6M471.4 133.2h.6M476.1 131.7h.6M474.8 132.4h.6M466.4 135.1h.6M471.5 129.1h.6M468.1 148.6h.6M467.7 134.7h.6M472.6 133.1h.6M464.7 147.1h.6M474.4 127.6h.6M472.2 128.0h.6M474.5 130.8h.6M470.4 128.2h.6M467.6 129.9h.6M465.8 138.3h.6M478.9 119.6h.6M460.5 144.1h.6M472.0 136.6h.6M465.4 136.9h.6M468.9 141.0h.6M471.2 128.8h.6M467.8 135.1h.6M474.8 117.5h.6M478.9 127.3h.6M470.1 133.0h.6M472.4 133.2h.6M465.9 145.2h.6M472.0 121.2h.6M472.3 133.9h.6M472.4 136.5h.6M470.1 143.9h.6M468.1 129.8h.6M471.8 138.1h.6M469.1 134.1h.6M473.5 133.6h.6M476.2 140.7h.6M471.6 128.4h.6M475.1 133.2h.6M471.2 120.9h.6M475.6 125.9h.6M468.5 142.3h.6M466.5 138.2h.6M471.5 133.2h.6M465.4 136.1h.6M467.8 139.5h.6M468.2 125.6h.6M475.0 127.3h.6M472.8 135.3h.6M468.5 136.2h.6M476.9 125.4h.6M471.0 131.7h.6M472.9 137.4h.6M467.1 138.0h.6M467.7 143.4h.6M466.4 140.2h.6M467.6 140.4h.6M470.1 140.9h.6M474.5 125.1h.6" stroke="#4c44a2" stroke-width="0.55" opacity="0.75" fill="none"/>
<rect x="462.4" y="163.5" width="21.6" height="2.9" rx="1.4" fill="#33349a" filter="url(#b0)"/>
<rect x="463" y="164" width="16.5" height="1.9" rx="0.9" fill="#2c8ac6"/>
<rect x="463.2" y="164.2" width="8" height="1.5" rx="0.7" fill="#58b84c"/>
</g>
<rect x="460.3" y="118.6" width="30.3" height="36.3" fill="none" stroke="#222" stroke-width="0.6"/>
<text x="501.8" y="123.6" font-size="6" text-anchor="middle">2.4%</text>
<rect x="451.4" y="112.6" width="61.4" height="68.8" fill="none" stroke="#7d7d7d" stroke-width="0.7"/>
<path d="M450.5 113.6V181.4" stroke="#555" stroke-width="1.1" stroke-dasharray="0.45 0.85"/>
<path d="M451.4 182.3H511.8" stroke="#555" stroke-width="1.1" stroke-dasharray="0.45 0.85"/>
<path d="M451.1 119.1h-2" stroke="#222" stroke-width="0.7"/>
<text x="448.6" y="121" font-size="5" text-anchor="end">10<tspan font-size="3.2" dy="-2.1">5</tspan></text>
<path d="M451.1 136h-2" stroke="#222" stroke-width="0.7"/>
<text x="448.6" y="137.9" font-size="5" text-anchor="end">10<tspan font-size="3.2" dy="-2.1">4</tspan></text>
<path d="M451.1 154.2h-2" stroke="#222" stroke-width="0.7"/>
<text x="448.6" y="156.1" font-size="5" text-anchor="end">10<tspan font-size="3.2" dy="-2.1">3</tspan></text>
<path d="M451.1 165.7h-2" stroke="#222" stroke-width="0.7"/>
<text x="448.4" y="167.45" font-size="5" text-anchor="end">0</text>
<path d="M450.7 164.4v2.6" stroke="#111" stroke-width="1.3"/>
<path d="M451.1 177h-2" stroke="#222" stroke-width="0.7"/>
<text x="448.6" y="178.9" font-size="5" text-anchor="end">−10<tspan font-size="3.2" dy="-2.1">3</tspan></text>
<path d="M451.7 181.7v2" stroke="#222" stroke-width="0.7"/>
<text x="454" y="188.4" font-size="5" text-anchor="end" transform="rotate(-45 454 188.4)">0</text>
<path d="M463.42 181.7v2" stroke="#222" stroke-width="0.7"/>
<text x="465.72" y="188.4" font-size="5" text-anchor="end" transform="rotate(-45 465.72 188.4)">50K</text>
<path d="M475.14 181.7v2" stroke="#222" stroke-width="0.7"/>
<text x="477.44" y="188.4" font-size="5" text-anchor="end" transform="rotate(-45 477.44 188.4)">100K</text>
<path d="M486.86 181.7v2" stroke="#222" stroke-width="0.7"/>
<text x="489.16" y="188.4" font-size="5" text-anchor="end" transform="rotate(-45 489.16 188.4)">150K</text>
<path d="M498.58 181.7v2" stroke="#222" stroke-width="0.7"/>
<text x="500.88" y="188.4" font-size="5" text-anchor="end" transform="rotate(-45 500.88 188.4)">200K</text>
<path d="M510.3 181.7v2" stroke="#222" stroke-width="0.7"/>
<text x="512.6" y="188.4" font-size="5" text-anchor="end" transform="rotate(-45 512.6 188.4)">250K</text>
<text x="481.3" y="206.2" font-size="7.6" text-anchor="middle" textLength="15.5" lengthAdjust="spacingAndGlyphs" class="c">FSC-A</text>
<text class="c" x="0" y="0" font-size="7.6" text-anchor="middle" textLength="10.78" lengthAdjust="spacingAndGlyphs" transform="translate(432.9 148.3) rotate(-90)">GFP</text>
<path d="M52.6 143.4V217H158.4M52.6 146.3h-3.58M52.6 163.8h-3.58M52.6 181.3h-3.58M52.6 198.8h-3.58M52.6 216.3h-3.58" stroke="#000" stroke-width="1.15" fill="none"/>
<text x="46.6" y="148.5" font-size="6.2" text-anchor="end">10</text>
<text x="46.6" y="166" font-size="6.2" text-anchor="end">1</text>
<text x="46.6" y="183.5" font-size="6.2" text-anchor="end">0.1</text>
<text x="46.6" y="201" font-size="6.2" text-anchor="end">0.01</text>
<text x="46.6" y="218.5" font-size="6.2" text-anchor="end">0.001</text>
<path d="M66 217v3.58M85 217v3.58M104.8 217v3.58M125 217v3.58M145 217v3.58" stroke="#000" stroke-width="1.15" fill="none"/>
<text x="66" y="228.3" font-size="6.2" text-anchor="middle">d5</text>
<text x="85" y="228.3" font-size="6.2" text-anchor="middle">d7</text>
<text x="104.8" y="228.3" font-size="6.2" text-anchor="middle">d12</text>
<text x="125" y="228.3" font-size="6.2" text-anchor="middle">d30</text>
<text x="145" y="228.3" font-size="6.2" text-anchor="middle">d90</text>
<text x="104.8" y="239.3" font-size="7" text-anchor="middle" textLength="38.1" lengthAdjust="spacingAndGlyphs" class="c">Days after HCT</text>
<g class="c" transform="translate(23.4 180) rotate(-90)">
<text x="-23.61" y="0" font-size="7.5" textLength="18.13" lengthAdjust="spacingAndGlyphs">% GFP</text>
<text x="-5.48" y="-3.15" font-size="4.5" textLength="1.97" lengthAdjust="spacingAndGlyphs">+</text>
<text x="-1.41" y="0" font-size="7.5" text-anchor="middle">/</text>
<text x="0.69" y="0" font-size="7.5" textLength="7.81" lengthAdjust="spacingAndGlyphs">CX</text>
<text x="8.51" y="1.5" font-size="4.5" textLength="1.88" lengthAdjust="spacingAndGlyphs">3</text>
<text x="10.38" y="0" font-size="7.5" textLength="11.25" lengthAdjust="spacingAndGlyphs">CR1</text>
<text x="21.64" y="-3.15" font-size="4.5" textLength="1.97" lengthAdjust="spacingAndGlyphs">+</text>
</g>
<path d="M60.2 192.2H71.8M66 188.4V200.2M63.6 188.4H68.4M63.6 200.2H68.4" stroke="#1d4f7c" stroke-width="0.7" fill="none"/>
<circle cx="66" cy="188.4" r="0.95" fill="#1d4f7c"/>
<circle cx="66" cy="193.4" r="0.95" fill="#1d4f7c"/>
<circle cx="66" cy="200.2" r="0.95" fill="#1d4f7c"/>
<path d="M78.6 182H91.4M85 178.4V186.6M82.6 178.4H87.4M82.6 186.6H87.4" stroke="#c8102e" stroke-width="0.7" fill="none"/>
<path d="M83.9 177.3h2.2v2.2h-2.2zM79.2 180.9h2.2v2.2h-2.2zM88.6 180.9h2.2v2.2h-2.2zM83.9 185.5h2.2v2.2h-2.2z" fill="#c8102e"/>
<path d="M98.4 169.6H111.2M104.8 167.8V171.6M102.4 167.8H107.2M102.4 171.6H107.2" stroke="#3aa535" stroke-width="0.7" fill="none"/>
<path d="M99 168.6l1.4-2.4l1.4 2.4zM103.6 168.2l1.4-2.4l1.4 2.4zM108.4 172l1.4-2.4l1.4 2.4z" fill="#3aa535"/>
<path d="M118.6 156.8H131.4M125 155V158.6M122.6 155H127.4M122.6 158.6H127.4" stroke="#6f74b8" stroke-width="0.7" fill="none"/>
<path d="M123.6 153.4l1.4 2.4l1.4-2.4zM121 156.6l1.4 2.4l1.4-2.4zM126.8 156.6l1.4 2.4l1.4-2.4z" fill="#6f74b8"/>
<path d="M138.6 152.2H151.4M145 148.4V156.4M142.6 148.4H147.4M142.6 156.4H147.4" stroke="#f08a00" stroke-width="0.7" fill="none"/>
<path d="M145 146.6l1.5 1.6l-1.5 1.6l-1.5-1.6zM142.6 150.8l1.5 1.6l-1.5 1.6l-1.5-1.6zM147.8 150.8l1.5 1.6l-1.5 1.6l-1.5-1.6zM145 154.8l1.5 1.6l-1.5 1.6l-1.5-1.6z" fill="#f08a00"/>
<text x="230" y="137.8" font-size="7.5" text-anchor="middle">4.5 Gy</text>
<rect x="208.2" y="165.4" width="10.4" height="51.1" fill="#c8102e"/>
<rect x="225" y="174.4" width="10.4" height="42.1" fill="#f08a00"/>
<rect x="242" y="180" width="10.4" height="36.5" fill="#fdc010"/>
<path d="M213.4 161.8V167.6M211.2 161.8H215.6M211.2 167.6H215.6" stroke="#000" stroke-width="0.6" fill="none"/>
<circle cx="213.4" cy="161.8" r="1.1" fill="#000"/>
<circle cx="209.8" cy="165.8" r="1.1" fill="#000"/>
<circle cx="217" cy="165.8" r="1.1" fill="#000"/>
<circle cx="211.8" cy="167.2" r="1.1" fill="#000"/>
<circle cx="215.2" cy="167.4" r="1.1" fill="#000"/>
<path d="M230.2 167.3V181.6M228 167.3H232.4M228 181.6H232.4" stroke="#000" stroke-width="0.6" fill="none"/>
<circle cx="230.2" cy="163.5" r="1.1" fill="#000"/>
<circle cx="230.2" cy="170.6" r="1.1" fill="#000"/>
<circle cx="230.2" cy="174" r="1.1" fill="#000"/>
<circle cx="230.2" cy="176.6" r="1.1" fill="#000"/>
<circle cx="230.2" cy="179.2" r="1.1" fill="#000"/>
<circle cx="230.2" cy="182" r="1.1" fill="#000"/>
<path d="M247.2 173.4V187.4M245 173.4H249.4M245 187.4H249.4" stroke="#000" stroke-width="0.6" fill="none"/>
<circle cx="247.2" cy="170.4" r="1.1" fill="#000"/>
<circle cx="247.2" cy="174.2" r="1.1" fill="#000"/>
<circle cx="249.4" cy="181.2" r="1.1" fill="#000"/>
<circle cx="244.6" cy="183.4" r="1.1" fill="#000"/>
<circle cx="249.8" cy="183.8" r="1.1" fill="#000"/>
<circle cx="247.2" cy="187.8" r="1.1" fill="#000"/>
<path d="M202.4 142.6V216.5H258M202.4 145.2h-3.58M202.4 159.5h-3.58M202.4 173.7h-3.58M202.4 188h-3.58M202.4 202.2h-3.58M202.4 216.5h-3.58" stroke="#000" stroke-width="1.15" fill="none"/>
<text x="196.4" y="147.4" font-size="6.2" text-anchor="end">100</text>
<text x="196.4" y="161.7" font-size="6.2" text-anchor="end">80</text>
<text x="196.4" y="175.9" font-size="6.2" text-anchor="end">60</text>
<text x="196.4" y="190.2" font-size="6.2" text-anchor="end">40</text>
<text x="196.4" y="204.4" font-size="6.2" text-anchor="end">20</text>
<text x="196.4" y="218.7" font-size="6.2" text-anchor="end">0</text>
<path d="M213.4 216.5v3.58M230.2 216.5v3.58M247.2 216.5v3.58" stroke="#000" stroke-width="1.15" fill="none"/>
<text x="215.8" y="226.9" font-size="6.1" text-anchor="end" transform="rotate(-45 215.8 226.9)">PBMC</text>
<text x="232.6" y="226.9" font-size="6.1" text-anchor="end" transform="rotate(-45 232.6 226.9)">BMMC</text>
<text x="249.6" y="226.9" font-size="6.1" text-anchor="end" transform="rotate(-45 249.6 226.9)">LSK</text>
<text class="c" x="0" y="0" font-size="7.5" text-anchor="middle" textLength="22.18" lengthAdjust="spacingAndGlyphs" transform="translate(180.3 179.8) rotate(-90)">% Donor</text>
<text x="328" y="137.2" font-size="7.5" text-anchor="middle">9.0 Gy</text>
<text x="358.6" y="137.2" font-size="7.5" text-anchor="middle">4.5 Gy</text>
<path d="M311 143V216.5H366.4M311 145.4h-3.58M311 163.3h-3.58M311 181.1h-3.58M311 198.8h-3.58M311 216.5h-3.58" stroke="#000" stroke-width="1.15" fill="none"/>
<text x="305" y="147.6" font-size="6.2" text-anchor="end">100</text>
<text x="305" y="165.5" font-size="6.2" text-anchor="end">10</text>
<text x="305" y="183.3" font-size="6.2" text-anchor="end">1</text>
<text x="305" y="201" font-size="6.2" text-anchor="end">0.1</text>
<text x="305" y="218.7" font-size="6.2" text-anchor="end">0.01</text>
<path d="M326.8 216.4v3.58M350.8 216.4v3.58" stroke="#000" stroke-width="1.15" fill="none"/>
<text x="326.8" y="227.6" font-size="6.2" text-anchor="middle">d90</text>
<text x="350.8" y="227.6" font-size="6.2" text-anchor="middle">d90</text>
<text x="339" y="239.6" font-size="7" text-anchor="middle" textLength="38.1" lengthAdjust="spacingAndGlyphs" class="c">Days after HCT</text>
<g class="c" transform="translate(285.3 179.7) rotate(-90)">
<text x="-23.61" y="0" font-size="7.5" textLength="18.13" lengthAdjust="spacingAndGlyphs">% GFP</text>
<text x="-5.48" y="-3.15" font-size="4.5" textLength="1.97" lengthAdjust="spacingAndGlyphs">+</text>
<text x="-1.41" y="0" font-size="7.5" text-anchor="middle">/</text>
<text x="0.69" y="0" font-size="7.5" textLength="7.81" lengthAdjust="spacingAndGlyphs">CX</text>
<text x="8.51" y="1.5" font-size="4.5" textLength="1.88" lengthAdjust="spacingAndGlyphs">3</text>
<text x="10.38" y="0" font-size="7.5" textLength="11.25" lengthAdjust="spacingAndGlyphs">CR1</text>
<text x="21.64" y="-3.15" font-size="4.5" textLength="1.97" lengthAdjust="spacingAndGlyphs">+</text>
</g>
<path d="M326.8 159.8V155.8H350.8V159.8" stroke="#000" stroke-width="0.6" fill="none"/>
<text x="338.8" y="154" font-size="6.4" text-anchor="middle">0.0009</text>
<path d="M318.8 169.2H334.8M326.8 166V173.6M323.2 166H330.4M323.2 173.6H330.4" stroke="#222" stroke-width="0.7" fill="none"/>
<g fill="#fff" stroke="#333" stroke-width="0.5"><circle cx="326.8" cy="166" r="0.9"/><circle cx="325.6" cy="169.4" r="0.9"/><circle cx="328.2" cy="170" r="0.9"/><circle cx="326.8" cy="173" r="0.9"/></g>
<path d="M343 183H358.6M350.8 178.2V193.4M347.2 178.2H354.4M347.2 193.4H354.4" stroke="#1f6fb5" stroke-width="0.7" fill="none"/>
<circle cx="350.8" cy="176.2" r="1" fill="#173a63"/>
<circle cx="350.8" cy="180" r="1" fill="#173a63"/>
<circle cx="349.4" cy="184.6" r="1" fill="#173a63"/>
<circle cx="347.4" cy="188.6" r="1" fill="#173a63"/>
<circle cx="353.6" cy="188.4" r="1" fill="#173a63"/>
<circle cx="350.6" cy="188.8" r="1" fill="#173a63"/>
<use href="#mouseG" x="41.7" y="308.4"/>
<g><ellipse cx="65.6" cy="288.6" rx="4.2" ry="3.3" fill="#45a730" transform="rotate(20 65.6 288.6)"/><ellipse cx="71.4" cy="289.2" rx="4.6" ry="3.5" fill="#4db336"/><ellipse cx="77" cy="289" rx="4.6" ry="3.6" fill="#47ab32"/><ellipse cx="82.2" cy="288.8" rx="4.2" ry="3.5" fill="#4db336"/><ellipse cx="65.4" cy="288.2" rx="2.6" ry="1" fill="#7fd060" transform="rotate(24 65.4 288.2)"/><ellipse cx="70.6" cy="289.3" rx="2" ry="1.3" fill="#1b62b5"/><ellipse cx="76.3" cy="289.2" rx="1.7" ry="1.4" fill="#1b62b5"/><ellipse cx="81.6" cy="288.8" rx="2" ry="1.5" fill="#1b62b5"/></g>
<text x="59.3" y="301.3" font-size="6.3">5 × 10<tspan font-size="4" dy="-2.6">6</tspan><tspan dy="2.6"> BM</tspan></text>
<path d="M60.2 308L90.2 308" stroke="#000" stroke-width="0.9"/>
<path d="M93.8 308L89 310.3L89.9 308L89 305.7Z" fill="#000"/>
<text x="100" y="282.2" font-size="6.1">Busulfan</text>
<text x="100" y="289.7" font-size="6.25">100 or 50 mg/kg</text>
<use href="#mouseB" x="121.3" y="308.4"/>
<path d="M133.8 307.6L154.6 307.6" stroke="#000" stroke-width="0.9"/>
<path d="M158.2 307.6L153.4 309.9L154.3 307.6L153.4 305.3Z" fill="#000"/>
<text x="181.3" y="302.2" font-size="6.1" text-anchor="middle">Day 90</text>
<text x="181.3" y="309.7" font-size="6.1" text-anchor="middle">Blood, Marrow,</text>
<text x="181.3" y="317.2" font-size="6.1" text-anchor="middle">Brain</text>
<rect x="259.1" y="273.6" width="8.8" height="53.2" fill="#c8102e"/>
<rect x="273.3" y="286" width="8.8" height="40.8" fill="#c8102e"/>
<rect x="287.5" y="275.4" width="8.8" height="51.4" fill="#f08a00"/>
<rect x="301.7" y="274" width="8.8" height="52.8" fill="#f08a00"/>
<rect x="315.9" y="274.9" width="8.8" height="51.9" fill="#fdc010"/>
<rect x="330.1" y="273" width="8.8" height="53.8" fill="#fdc010"/>
<path d="M263.5 271V276M261.3 271H265.7M261.3 276H265.7" stroke="#000" stroke-width="0.6" fill="none"/>
<circle cx="260.5" cy="271" r="1.1" fill="#000"/>
<circle cx="266.9" cy="270.6" r="1.1" fill="#000"/>
<circle cx="263.5" cy="275.8" r="1.1" fill="#000"/>
<path d="M277.7 282V289.6M275.5 282H279.9M275.5 289.6H279.9" stroke="#000" stroke-width="0.6" fill="none"/>
<circle cx="277.7" cy="280.6" r="1.1" fill="#000"/>
<circle cx="274.7" cy="286.6" r="1.1" fill="#000"/>
<circle cx="277.7" cy="287.4" r="1.1" fill="#000"/>
<circle cx="280.9" cy="286.6" r="1.1" fill="#000"/>
<circle cx="288.5" cy="275.6" r="1.1" fill="#000"/>
<circle cx="290.7" cy="274.6" r="1.1" fill="#000"/>
<circle cx="293.1" cy="275.2" r="1.1" fill="#000"/>
<circle cx="295.3" cy="275.4" r="1.1" fill="#000"/>
<path d="M306.1 272.4V275.8M303.9 272.4H308.3M303.9 275.8H308.3" stroke="#000" stroke-width="0.6" fill="none"/>
<circle cx="302.9" cy="272.2" r="1.1" fill="#000"/>
<circle cx="309.3" cy="272.4" r="1.1" fill="#000"/>
<circle cx="306.1" cy="276" r="1.1" fill="#000"/>
<circle cx="316.9" cy="275.4" r="1.1" fill="#000"/>
<circle cx="319.7" cy="273.8" r="1.1" fill="#000"/>
<circle cx="322.7" cy="274.8" r="1.1" fill="#000"/>
<circle cx="323.9" cy="272.8" r="1.1" fill="#000"/>
<path d="M334.5 271.6V274.6M332.3 271.6H336.7M332.3 274.6H336.7" stroke="#000" stroke-width="0.6" fill="none"/>
<circle cx="331.3" cy="271" r="1.1" fill="#000"/>
<circle cx="334.5" cy="273.8" r="1.1" fill="#000"/>
<circle cx="337.9" cy="272.6" r="1.1" fill="#000"/>
<circle cx="336.3" cy="272" r="1.1" fill="#000"/>
<path d="M254.5 266V326.7H343.6M254.5 269h-3.58M254.5 280.5h-3.58M254.5 292.1h-3.58M254.5 303.6h-3.58M254.5 315.1h-3.58M254.5 326.7h-3.58" stroke="#000" stroke-width="1.15" fill="none"/>
<text x="248.5" y="271.2" font-size="6.2" text-anchor="end">100</text>
<text x="248.5" y="282.7" font-size="6.2" text-anchor="end">80</text>
<text x="248.5" y="294.3" font-size="6.2" text-anchor="end">60</text>
<text x="248.5" y="305.8" font-size="6.2" text-anchor="end">40</text>
<text x="248.5" y="317.3" font-size="6.2" text-anchor="end">20</text>
<text x="248.5" y="328.9" font-size="6.2" text-anchor="end">0</text>
<path d="M263.5 326.8v3.58M277.7 326.8v3.58M291.9 326.8v3.58M306.1 326.8v3.58M320.3 326.8v3.58M334.5 326.8v3.58" stroke="#000" stroke-width="1.15" fill="none"/>
<text x="265.9" y="337.1" font-size="6.1" text-anchor="end" transform="rotate(-45 265.9 337.1)">(100 mg) PBMC</text>
<text x="280.1" y="337.1" font-size="6.1" text-anchor="end" transform="rotate(-45 280.1 337.1)">(50 mg) PBMC</text>
<text x="294.3" y="337.1" font-size="6.1" text-anchor="end" transform="rotate(-45 294.3 337.1)">(100 mg) BMMC</text>
<text x="308.5" y="337.1" font-size="6.1" text-anchor="end" transform="rotate(-45 308.5 337.1)">(50 mg) BMMC</text>
<text x="322.7" y="337.1" font-size="6.1" text-anchor="end" transform="rotate(-45 322.7 337.1)">(100 mg) LSK</text>
<text x="336.9" y="337.1" font-size="6.1" text-anchor="end" transform="rotate(-45 336.9 337.1)">(50 mg) LSK</text>
<text x="299.4" y="378.6" font-size="7" text-anchor="middle" textLength="43.65" lengthAdjust="spacingAndGlyphs" class="c">(Dose) population</text>
<text class="c" x="0" y="0" font-size="7.5" text-anchor="middle" textLength="22.18" lengthAdjust="spacingAndGlyphs" transform="translate(232.3 296.3) rotate(-90)">% Donor</text>
<text x="426.4" y="264.4" font-size="7.3" text-anchor="middle">Busulfan</text>
<path d="M401.9 268.6V326.8H450.6M401.9 271.5h-3.58M401.9 289.9h-3.58M401.9 308.3h-3.58M401.9 326.8h-3.58" stroke="#000" stroke-width="1.15" fill="none"/>
<text x="395.9" y="273.7" font-size="6.2" text-anchor="end">100</text>
<text x="395.9" y="292.1" font-size="6.2" text-anchor="end">10</text>
<text x="395.9" y="310.5" font-size="6.2" text-anchor="end">1</text>
<text x="395.9" y="329" font-size="6.2" text-anchor="end">0.1</text>
<path d="M416 326.8v3.58M436.8 326.8v3.58" stroke="#000" stroke-width="1.15" fill="none"/>
<text x="418.4" y="337.2" font-size="6.1" text-anchor="end" transform="rotate(-45 418.4 337.2)">(100Bu) 90</text>
<text x="439.2" y="337.2" font-size="6.1" text-anchor="end" transform="rotate(-45 439.2 337.2)">(50 mg) 90</text>
<text x="426" y="368.8" font-size="7" text-anchor="middle" textLength="55.31" lengthAdjust="spacingAndGlyphs" class="c">(Dose) days after HCT</text>
<g class="c" transform="translate(379.4 297.5) rotate(-90)">
<text x="-23.61" y="0" font-size="7.5" textLength="18.13" lengthAdjust="spacingAndGlyphs">% GFP</text>
<text x="-5.48" y="-3.15" font-size="4.5" textLength="1.97" lengthAdjust="spacingAndGlyphs">+</text>
<text x="-1.41" y="0" font-size="7.5" text-anchor="middle">/</text>
<text x="0.69" y="0" font-size="7.5" textLength="7.81" lengthAdjust="spacingAndGlyphs">CX</text>
<text x="8.51" y="1.5" font-size="4.5" textLength="1.88" lengthAdjust="spacingAndGlyphs">3</text>
<text x="10.38" y="0" font-size="7.5" textLength="11.25" lengthAdjust="spacingAndGlyphs">CR1</text>
<text x="21.64" y="-3.15" font-size="4.5" textLength="1.97" lengthAdjust="spacingAndGlyphs">+</text>
</g>
<path d="M416 281.4V277.5H436.8V281.4" stroke="#000" stroke-width="0.6" fill="none"/>
<text x="426.4" y="275.7" font-size="6.4" text-anchor="middle">0.0015</text>
<path d="M409.6 286H422.6M416 284V289M413.6 284h4.8M413.6 289h4.8" stroke="#6f6fc0" stroke-width="0.7" stroke-dasharray="1.2 0.6" fill="none"/>
<path d="M409.6 285.4h1.6v1.6h-1.6zM413 284h1.6v1.6H413zM417.6 284.2h1.6v1.6h-1.6zM421.4 285.4h1.6v1.6h-1.6zM415.4 288h1.6v1.6h-1.6zM413.6 293h1.6v1.6h-1.6zM417.6 293h1.6v1.6h-1.6z" fill="#6f6fc0"/>
<path d="M430.2 302.8H443.4M436.8 299V307.4M434.4 299H439.2M434.4 307.4H439.2" stroke="#2aa02a" stroke-width="0.7" fill="none"/>
<path d="M436.8 297.4l1.3 2.2h-2.6zM434.2 301l1.3 2.2h-2.6zM439.6 301.2l1.3 2.2h-2.6zM436.8 305.8l1.3 2.2h-2.6z" fill="#2aa02a"/>
<use href="#mouseG" x="42.5" y="453.6"/>
<use href="#cell" x="77.7" y="427.4"/>
<use href="#cell" x="70.4" y="429.3"/>
<use href="#cell" x="65.2" y="433.2"/>
<use href="#cell" x="82.2" y="433.8"/>
<use href="#cell" x="75.8" y="433.9"/>
<use href="#cell" x="70.2" y="434.6"/>
<path d="M60.2 452L90.2 452" stroke="#000" stroke-width="0.9"/>
<path d="M93.8 452L89 454.3L89.9 452L89 449.7Z" fill="#000"/>
<text x="76.3" y="461" font-size="6.1" text-anchor="middle">0.5 or 10</text>
<text x="76.3" y="468.5" font-size="6.1" text-anchor="middle">× 10<tspan font-size="3.9" dy="-2.6">6</tspan><tspan dy="2.6"> BM</tspan></text>
<text x="96.2" y="419.4" font-size="7.8">9 Gy</text>
<path d="M100.1 425.7L101.7 425L103.3 429.9L105.2 428.6L107 432.6L108.8 431.5L110 433.8L111.5 432.8L112.1 437.2L110.3 434.7L109.1 435.5L107.7 433.3L105.9 434.5L104.3 430.7L102 432.3Z" fill="#1f6db8"/>
<use href="#mouseB" x="121.3" y="453.6"/>
<path d="M133.8 451.8L154.6 451.8" stroke="#000" stroke-width="0.9"/>
<path d="M158.2 451.8L153.4 454.1L154.3 451.8L153.4 449.5Z" fill="#000"/>
<text x="181.3" y="446.4" font-size="6.1" text-anchor="middle">Day 90</text>
<text x="181.3" y="453.9" font-size="6.1" text-anchor="middle">Blood, Marrow,</text>
<text x="181.3" y="461.4" font-size="6.1" text-anchor="middle">Brain</text>
<rect x="259.1" y="414.6" width="8.8" height="60.2" fill="#c8102e"/>
<rect x="273.1" y="413.4" width="8.8" height="61.4" fill="#c8102e"/>
<rect x="287.1" y="416.6" width="8.8" height="58.2" fill="#f08a00"/>
<rect x="301.2" y="415.2" width="8.8" height="59.6" fill="#f08a00"/>
<rect x="315.2" y="413.5" width="8.8" height="61.3" fill="#fdc010"/>
<rect x="329.3" y="413.5" width="8.8" height="61.3" fill="#fdc010"/>
<circle cx="259.9" cy="414.6" r="1.1" fill="#000"/>
<circle cx="262.1" cy="413.4" r="1.1" fill="#000"/>
<circle cx="263.5" cy="416.2" r="1.1" fill="#000"/>
<circle cx="265.1" cy="414" r="1.1" fill="#000"/>
<circle cx="267.1" cy="414.4" r="1.1" fill="#000"/>
<circle cx="274.1" cy="411.8" r="1.1" fill="#000"/>
<circle cx="276.3" cy="413" r="1.1" fill="#000"/>
<circle cx="278.5" cy="412.4" r="1.1" fill="#000"/>
<circle cx="280.9" cy="413.2" r="1.1" fill="#000"/>
<circle cx="277.5" cy="415.4" r="1.1" fill="#000"/>
<circle cx="287.9" cy="417.4" r="1.1" fill="#000"/>
<circle cx="289.9" cy="416.2" r="1.1" fill="#000"/>
<circle cx="291.9" cy="417.4" r="1.1" fill="#000"/>
<circle cx="293.7" cy="415.6" r="1.1" fill="#000"/>
<circle cx="295.1" cy="414.8" r="1.1" fill="#000"/>
<circle cx="302.2" cy="414" r="1.1" fill="#000"/>
<circle cx="304.4" cy="415.8" r="1.1" fill="#000"/>
<circle cx="306.6" cy="414.2" r="1.1" fill="#000"/>
<circle cx="309" cy="414.4" r="1.1" fill="#000"/>
<circle cx="302.6" cy="416" r="1.1" fill="#000"/>
<circle cx="316" cy="413.8" r="1.1" fill="#000"/>
<circle cx="318" cy="413" r="1.1" fill="#000"/>
<circle cx="320" cy="413.6" r="1.1" fill="#000"/>
<circle cx="321.8" cy="412.6" r="1.1" fill="#000"/>
<circle cx="323.2" cy="411.6" r="1.1" fill="#000"/>
<circle cx="330.1" cy="414" r="1.1" fill="#000"/>
<circle cx="332.1" cy="412.8" r="1.1" fill="#000"/>
<circle cx="334.1" cy="413.4" r="1.1" fill="#000"/>
<circle cx="335.9" cy="413.6" r="1.1" fill="#000"/>
<circle cx="337.3" cy="413.4" r="1.1" fill="#000"/>
<path d="M254.2 406.4V474.8H342.4M254.2 409.2h-3.58M254.2 422.3h-3.58M254.2 435.4h-3.58M254.2 448.6h-3.58M254.2 461.7h-3.58M254.2 474.8h-3.58" stroke="#000" stroke-width="1.15" fill="none"/>
<text x="248.2" y="411.4" font-size="6.2" text-anchor="end">100</text>
<text x="248.2" y="424.5" font-size="6.2" text-anchor="end">80</text>
<text x="248.2" y="437.6" font-size="6.2" text-anchor="end">60</text>
<text x="248.2" y="450.8" font-size="6.2" text-anchor="end">40</text>
<text x="248.2" y="463.9" font-size="6.2" text-anchor="end">20</text>
<text x="248.2" y="477" font-size="6.2" text-anchor="end">0</text>
<path d="M263.5 474.8v3.58M277.5 474.8v3.58M291.5 474.8v3.58M305.6 474.8v3.58M319.6 474.8v3.58M333.7 474.8v3.58" stroke="#000" stroke-width="1.15" fill="none"/>
<text x="265.9" y="485.2" font-size="6.1" text-anchor="end" transform="rotate(-45 265.9 485.2)">(0.5 M) PBMC</text>
<text x="279.9" y="485.2" font-size="6.1" text-anchor="end" transform="rotate(-45 279.9 485.2)">(10 M) PBMC</text>
<text x="293.9" y="485.2" font-size="6.1" text-anchor="end" transform="rotate(-45 293.9 485.2)">(0.5 M) BMMC</text>
<text x="308" y="485.2" font-size="6.1" text-anchor="end" transform="rotate(-45 308 485.2)">(10 M) BMMC</text>
<text x="322" y="485.2" font-size="6.1" text-anchor="end" transform="rotate(-45 322 485.2)">(0.5 M) LSK</text>
<text x="336.1" y="485.2" font-size="6.1" text-anchor="end" transform="rotate(-45 336.1 485.2)">(10 M) LSK</text>
<text x="298.8" y="524" font-size="7" text-anchor="middle" textLength="53.79" lengthAdjust="spacingAndGlyphs" class="c">(Cell dose) population</text>
<text class="c" x="0" y="0" font-size="7.5" text-anchor="middle" textLength="22.18" lengthAdjust="spacingAndGlyphs" transform="translate(232.4 441) rotate(-90)">% Donor</text>
<path d="M402 409.4V472.8H447.2M402 412.3h-3.58M402 432.4h-3.58M402 452.6h-3.58M402 472.8h-3.58" stroke="#000" stroke-width="1.15" fill="none"/>
<text x="396" y="414.5" font-size="6.2" text-anchor="end">100</text>
<text x="396" y="434.6" font-size="6.2" text-anchor="end">10</text>
<text x="396" y="454.8" font-size="6.2" text-anchor="end">1</text>
<text x="396" y="475" font-size="6.2" text-anchor="end">0.1</text>
<path d="M414.2 472.8v3.58M432.9 472.8v3.58" stroke="#000" stroke-width="1.15" fill="none"/>
<text x="416.6" y="483.2" font-size="6.1" text-anchor="end" transform="rotate(-45 416.6 483.2)">0.5 M</text>
<text x="435.3" y="483.2" font-size="6.1" text-anchor="end" transform="rotate(-45 435.3 483.2)">10 M</text>
<g class="c" transform="translate(378.9 444) rotate(-90)">
<text x="-24.5" y="0" font-size="7.5" textLength="21.88" lengthAdjust="spacingAndGlyphs">% Donor</text>
<text x="-0.52" y="0" font-size="7.5" text-anchor="middle">/</text>
<text x="1.58" y="0" font-size="7.5" textLength="7.81" lengthAdjust="spacingAndGlyphs">CX</text>
<text x="9.4" y="1.5" font-size="4.5" textLength="1.88" lengthAdjust="spacingAndGlyphs">3</text>
<text x="11.28" y="0" font-size="7.5" textLength="11.25" lengthAdjust="spacingAndGlyphs">CR1</text>
<text x="22.53" y="-3.15" font-size="4.5" textLength="1.97" lengthAdjust="spacingAndGlyphs">+</text>
</g>
<path d="M414.2 430V426.2H432.9V430" stroke="#000" stroke-width="0.6" fill="none"/>
<text x="423.55" y="424.4" font-size="6.4" text-anchor="middle">0.5663</text>
<path d="M408.2 439.2L420.6 439.2" stroke="#000" stroke-width="0.8"/>
<circle cx="414.2" cy="434" r="0.85" fill="#1d4f7c"/>
<circle cx="413" cy="437.8" r="0.85" fill="#1d4f7c"/>
<circle cx="415.6" cy="441" r="0.85" fill="#1d4f7c"/>
<circle cx="414.2" cy="443.2" r="0.85" fill="#1d4f7c"/>
<circle cx="414.2" cy="446.2" r="0.85" fill="#1d4f7c"/>
<path d="M427 437.2L439.4 437.2" stroke="#000" stroke-width="0.8"/>
<path d="M433.9 434.2h1.7v1.7h-1.7zM429.8 435.8h1.7v1.7h-1.7zM432.4 437.6h1.7v1.7h-1.7zM432 442h1.7v1.7h-1.7z" fill="#c8102e"/>
<use href="#mouseG" x="41.3" y="581"/>
<use href="#cell" x="76.6" y="554.6"/>
<use href="#cell" x="69.2" y="556.2"/>
<use href="#cell" x="64.4" y="560.2"/>
<use href="#cell" x="81.4" y="560.8"/>
<use href="#cell" x="75.2" y="561.2"/>
<use href="#cell" x="69.6" y="561.8"/>
<text x="58.4" y="574.7" font-size="6.3">5 × 10<tspan font-size="4" dy="-2.6">6</tspan><tspan dy="2.6"> BM</tspan></text>
<path d="M59.4 579.6L89.2 579.6" stroke="#000" stroke-width="0.9"/>
<path d="M92.8 579.6L88 581.9L88.9 579.6L88 577.3Z" fill="#000"/>
<text x="100" y="554.7" font-size="6.1">Busulfan</text>
<text x="100" y="562.2" font-size="6.1">75 mg/kg</text>
<use href="#mouseB" x="119.6" y="581.4"/>
<text x="119.4" y="601.8" font-size="6.1" text-anchor="middle">CD45.2</text>
<path d="M132.6 579.6L154.6 579.6" stroke="#000" stroke-width="0.9"/>
<path d="M158.2 579.6L153.4 581.9L154.3 579.6L153.4 577.3Z" fill="#000"/>
<text x="173.3" y="581.7" font-size="6.1" text-anchor="middle">30 Days</text>
<path d="M173.3 586.4L173.3 598" stroke="#000" stroke-width="0.9"/>
<path d="M173.3 601.6L171 596.8L173.3 597.7L175.6 596.8Z" fill="#000"/>
<text x="173.3" y="611.7" font-size="6.1" text-anchor="middle">2nd HCT</text>
<text x="173.3" y="619" font-size="6.1" text-anchor="middle">9 Gy Radiation</text>
<text x="173.3" y="626.5" font-size="6.1" text-anchor="middle">5 × 10<tspan font-size="3.9" dy="-2.6">6</tspan><tspan dy="2.6"> CD45.1</tspan><tspan font-size="3.9" dy="-2.6">+</tspan><tspan dy="2.6"> BM</tspan></text>
<path d="M173.3 632.6L173.3 644.6" stroke="#000" stroke-width="0.9"/>
<path d="M173.3 648.2L171 643.4L173.3 644.3L175.6 643.4Z" fill="#000"/>
<text x="173.3" y="656.7" font-size="6.1" text-anchor="middle">Day 90</text>
<text x="173.3" y="664.2" font-size="6.1" text-anchor="middle">Blood, Marrow,</text>
<text x="173.3" y="671.7" font-size="6.1" text-anchor="middle">Brain</text>
<rect x="259.2" y="555.6" width="10.4" height="58.8" fill="#c8102e"/>
<rect x="274.5" y="556.2" width="10.3" height="58.2" fill="#f08a00"/>
<rect x="289.8" y="557" width="10.2" height="57.4" fill="#fdc010"/>
<path d="M264.4 553.4V556.6M262.2 553.4H266.6M262.2 556.6H266.6" stroke="#000" stroke-width="0.6" fill="none"/>
<circle cx="261.6" cy="552.6" r="1.1" fill="#000"/>
<circle cx="266.8" cy="554.4" r="1.1" fill="#000"/>
<circle cx="264.4" cy="556.4" r="1.1" fill="#000"/>
<path d="M279.65 554.8V557M277.45 554.8H281.85M277.45 557H281.85" stroke="#000" stroke-width="0.6" fill="none"/>
<circle cx="276.65" cy="554.4" r="1.1" fill="#000"/>
<circle cx="279.65" cy="556.6" r="1.1" fill="#000"/>
<circle cx="282.65" cy="555.8" r="1.1" fill="#000"/>
<path d="M294.9 555.6V558M292.7 555.6H297.1M292.7 558H297.1" stroke="#000" stroke-width="0.6" fill="none"/>
<circle cx="291.9" cy="556.2" r="1.1" fill="#000"/>
<circle cx="294.9" cy="557.6" r="1.1" fill="#000"/>
<circle cx="297.9" cy="556" r="1.1" fill="#000"/>
<path d="M254.2 549.4V614.4H306M254.2 552.4h-3.58M254.2 564.8h-3.58M254.2 577.2h-3.58M254.2 589.6h-3.58M254.2 602h-3.58M254.2 614.4h-3.58" stroke="#000" stroke-width="1.15" fill="none"/>
<text x="248.2" y="554.6" font-size="6.2" text-anchor="end">100</text>
<text x="248.2" y="567" font-size="6.2" text-anchor="end">80</text>
<text x="248.2" y="579.4" font-size="6.2" text-anchor="end">60</text>
<text x="248.2" y="591.8" font-size="6.2" text-anchor="end">40</text>
<text x="248.2" y="604.2" font-size="6.2" text-anchor="end">20</text>
<text x="248.2" y="616.6" font-size="6.2" text-anchor="end">0</text>
<path d="M264.4 614.4v3.58M279.65 614.4v3.58M294.9 614.4v3.58" stroke="#000" stroke-width="1.15" fill="none"/>
<text x="266.8" y="624.8" font-size="6.1" text-anchor="end" transform="rotate(-45 266.8 624.8)">PBMC</text>
<text x="282.05" y="624.8" font-size="6.1" text-anchor="end" transform="rotate(-45 282.05 624.8)">LSK</text>
<text x="297.3" y="624.8" font-size="6.1" text-anchor="end" transform="rotate(-45 297.3 624.8)">BMMC</text>
<text class="c" x="0" y="0" font-size="7.5" text-anchor="middle" textLength="22.18" lengthAdjust="spacingAndGlyphs" transform="translate(232 582) rotate(-90)">% Donor</text>
<path d="M401.8 550.8V616.5H442.4M401.8 553.5h-3.58M401.8 574.4h-3.58M401.8 595.4h-3.58M401.8 616.5h-3.58" stroke="#000" stroke-width="1.15" fill="none"/>
<text x="395.8" y="555.7" font-size="6.2" text-anchor="end">100</text>
<text x="395.8" y="576.6" font-size="6.2" text-anchor="end">10</text>
<text x="395.8" y="597.6" font-size="6.2" text-anchor="end">1</text>
<text x="395.8" y="618.7" font-size="6.2" text-anchor="end">0.1</text>
<path d="M422.2 616.5v3.58" stroke="#000" stroke-width="1.15" fill="none"/>
<text x="422.2" y="628" font-size="6.2" text-anchor="middle">DT</text>
<g class="c" transform="translate(378.8 583.7) rotate(-90)">
<text x="-24.5" y="0" font-size="7.5" textLength="21.88" lengthAdjust="spacingAndGlyphs">% Donor</text>
<text x="-0.52" y="0" font-size="7.5" text-anchor="middle">/</text>
<text x="1.58" y="0" font-size="7.5" textLength="7.81" lengthAdjust="spacingAndGlyphs">CX</text>
<text x="9.4" y="1.5" font-size="4.5" textLength="1.88" lengthAdjust="spacingAndGlyphs">3</text>
<text x="11.28" y="0" font-size="7.5" textLength="11.25" lengthAdjust="spacingAndGlyphs">CR1</text>
<text x="22.53" y="-3.15" font-size="4.5" textLength="1.97" lengthAdjust="spacingAndGlyphs">+</text>
</g>
<path d="M412.4 556.5L432.4 556.5" stroke="#000" stroke-width="0.8"/>
<circle cx="420" cy="556.8" r="0.7" fill="#444"/>
<circle cx="423" cy="554.6" r="0.7" fill="#444"/>
<circle cx="425.4" cy="556.9" r="0.7" fill="#444"/>
</svg></body></html>
